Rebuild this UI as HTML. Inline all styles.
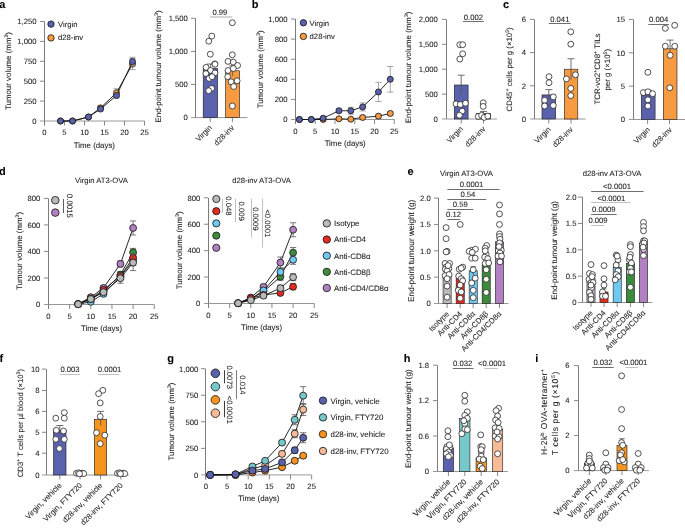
<!DOCTYPE html>
<html><head><meta charset="utf-8"><style>
html,body{margin:0;padding:0;background:#fff;}
body{width:685px;height:528px;overflow:hidden;}
svg{display:block;font-family:"Liberation Sans",sans-serif;font-size:7.7px;fill:#1e1e1e;text-rendering:geometricPrecision;}
text{stroke:#1e1e1e;stroke-width:0.08px;}
</style></head><body>
<svg width="685" height="528" viewBox="0 0 685 528" style="will-change:transform">
<rect width="685" height="528" fill="#fff"/>
<text x="-0.8" y="7.8" font-size="11" font-weight="bold" fill="#000">a</text>
<line x1="44.5" y1="21.4" x2="44.5" y2="125.5" stroke="#7c7c7c" stroke-width="1"/>
<text x="36.6" y="123.8" text-anchor="end">0</text>
<line x1="40" y1="101.1" x2="44" y2="101.1" stroke="#7a7a7a" stroke-width="0.9"/>
<text x="36.6" y="103.9" text-anchor="end">250</text>
<line x1="40" y1="81.2" x2="44" y2="81.2" stroke="#7a7a7a" stroke-width="0.9"/>
<text x="36.6" y="84" text-anchor="end">500</text>
<line x1="40" y1="61.3" x2="44" y2="61.3" stroke="#7a7a7a" stroke-width="0.9"/>
<text x="36.6" y="64.1" text-anchor="end">750</text>
<line x1="40" y1="41.4" x2="44" y2="41.4" stroke="#7a7a7a" stroke-width="0.9"/>
<text x="36.6" y="44.2" text-anchor="end">1,000</text>
<line x1="40" y1="21.5" x2="44" y2="21.5" stroke="#7a7a7a" stroke-width="0.9"/>
<text x="36.6" y="24.3" text-anchor="end">1,250</text>
<line x1="40" y1="121" x2="144.5" y2="121" stroke="#8c8c8c" stroke-width="0.9"/>
<line x1="44.5" y1="121" x2="44.5" y2="125.5" stroke="#7a7a7a" stroke-width="0.9"/>
<text x="44.5" y="135.2" text-anchor="middle">0</text>
<line x1="64.5" y1="121" x2="64.5" y2="125.5" stroke="#7a7a7a" stroke-width="0.9"/>
<text x="64.5" y="135.2" text-anchor="middle">5</text>
<line x1="84.5" y1="121" x2="84.5" y2="125.5" stroke="#7a7a7a" stroke-width="0.9"/>
<text x="84.5" y="135.2" text-anchor="middle">10</text>
<line x1="104.5" y1="121" x2="104.5" y2="125.5" stroke="#7a7a7a" stroke-width="0.9"/>
<text x="104.5" y="135.2" text-anchor="middle">15</text>
<line x1="124.5" y1="121" x2="124.5" y2="125.5" stroke="#7a7a7a" stroke-width="0.9"/>
<text x="124.5" y="135.2" text-anchor="middle">20</text>
<line x1="144.5" y1="121" x2="144.5" y2="125.5" stroke="#7a7a7a" stroke-width="0.9"/>
<text x="144.5" y="135.2" text-anchor="middle">25</text>
<text x="94.4" y="147.6" text-anchor="middle" font-size="7.85">Time (days)</text>
<text x="10.5" y="71" text-anchor="middle" font-size="7.9" transform="rotate(-90 10.5 71)">Tumour volume (mm<tspan baseline-shift="2.9" font-size="5.2">3</tspan>)</text>
<line x1="100.5" y1="105.87" x2="100.5" y2="109.87" stroke="#8f8f8f" stroke-width="0.8"/>
<line x1="97.4" y1="105.87" x2="103.6" y2="105.87" stroke="#8f8f8f" stroke-width="0.8"/>
<line x1="97.4" y1="109.87" x2="103.6" y2="109.87" stroke="#8f8f8f" stroke-width="0.8"/>
<line x1="116.5" y1="88.74" x2="116.5" y2="96.74" stroke="#8f8f8f" stroke-width="0.8"/>
<line x1="113.4" y1="88.74" x2="119.6" y2="88.74" stroke="#8f8f8f" stroke-width="0.8"/>
<line x1="113.4" y1="96.74" x2="119.6" y2="96.74" stroke="#8f8f8f" stroke-width="0.8"/>
<line x1="132.5" y1="58.59" x2="132.5" y2="69.59" stroke="#8f8f8f" stroke-width="0.8"/>
<line x1="129.4" y1="58.59" x2="135.6" y2="58.59" stroke="#8f8f8f" stroke-width="0.8"/>
<line x1="129.4" y1="69.59" x2="135.6" y2="69.59" stroke="#8f8f8f" stroke-width="0.8"/>
<polyline points="60.5,121 72.5,121 88.5,117.02 100.5,107.87 116.5,92.74 132.5,64.09" fill="none" stroke="#111" stroke-width="0.9"/>
<circle cx="60.5" cy="121" r="3" fill="#f79b42" stroke="#1a1a1a" stroke-width="0.85"/>
<circle cx="72.5" cy="121" r="3" fill="#f79b42" stroke="#1a1a1a" stroke-width="0.85"/>
<circle cx="88.5" cy="117.02" r="3" fill="#f79b42" stroke="#1a1a1a" stroke-width="0.85"/>
<circle cx="100.5" cy="107.87" r="3" fill="#f79b42" stroke="#1a1a1a" stroke-width="0.85"/>
<circle cx="116.5" cy="92.74" r="3" fill="#f79b42" stroke="#1a1a1a" stroke-width="0.85"/>
<circle cx="132.5" cy="64.09" r="3" fill="#f79b42" stroke="#1a1a1a" stroke-width="0.85"/>
<line x1="100.5" y1="107.06" x2="100.5" y2="111.06" stroke="#8f8f8f" stroke-width="0.8"/>
<line x1="97.4" y1="107.06" x2="103.6" y2="107.06" stroke="#8f8f8f" stroke-width="0.8"/>
<line x1="97.4" y1="111.06" x2="103.6" y2="111.06" stroke="#8f8f8f" stroke-width="0.8"/>
<line x1="116.5" y1="93.03" x2="116.5" y2="98.03" stroke="#8f8f8f" stroke-width="0.8"/>
<line x1="113.4" y1="93.03" x2="119.6" y2="93.03" stroke="#8f8f8f" stroke-width="0.8"/>
<line x1="113.4" y1="98.03" x2="119.6" y2="98.03" stroke="#8f8f8f" stroke-width="0.8"/>
<line x1="132.5" y1="57.24" x2="132.5" y2="65.84" stroke="#8f8f8f" stroke-width="0.8"/>
<line x1="129.4" y1="57.24" x2="135.6" y2="57.24" stroke="#8f8f8f" stroke-width="0.8"/>
<line x1="129.4" y1="65.84" x2="135.6" y2="65.84" stroke="#8f8f8f" stroke-width="0.8"/>
<polyline points="60.5,121 72.5,121 88.5,116.94 100.5,109.06 116.5,95.53 132.5,61.54" fill="none" stroke="#111" stroke-width="0.9"/>
<circle cx="60.5" cy="121" r="3" fill="#5a62ad" stroke="#1a1a1a" stroke-width="0.85"/>
<circle cx="72.5" cy="121" r="3" fill="#5a62ad" stroke="#1a1a1a" stroke-width="0.85"/>
<circle cx="88.5" cy="116.94" r="3" fill="#5a62ad" stroke="#1a1a1a" stroke-width="0.85"/>
<circle cx="100.5" cy="109.06" r="3" fill="#5a62ad" stroke="#1a1a1a" stroke-width="0.85"/>
<circle cx="116.5" cy="95.53" r="3" fill="#5a62ad" stroke="#1a1a1a" stroke-width="0.85"/>
<circle cx="132.5" cy="61.54" r="3" fill="#5a62ad" stroke="#1a1a1a" stroke-width="0.85"/>
<circle cx="51" cy="24.1" r="3.2" fill="#5a62ad" stroke="#1a1a1a" stroke-width="0.85"/>
<text x="58" y="27">Virgin</text>
<circle cx="51" cy="37.9" r="3.2" fill="#f79b42" stroke="#1a1a1a" stroke-width="0.85"/>
<text x="58" y="40.4">d28-inv</text>
<line x1="195.5" y1="18.2" x2="195.5" y2="117.6" stroke="#7c7c7c" stroke-width="1"/>
<text x="187.9" y="120.4" text-anchor="end">0</text>
<line x1="191" y1="84.5" x2="195" y2="84.5" stroke="#7a7a7a" stroke-width="0.9"/>
<text x="187.9" y="87.3" text-anchor="end">500</text>
<line x1="191" y1="51.4" x2="195" y2="51.4" stroke="#7a7a7a" stroke-width="0.9"/>
<text x="187.9" y="54.2" text-anchor="end">1,000</text>
<line x1="191" y1="18.3" x2="195" y2="18.3" stroke="#7a7a7a" stroke-width="0.9"/>
<text x="187.9" y="21.1" text-anchor="end">1,500</text>
<line x1="191" y1="117.6" x2="247.5" y2="117.6" stroke="#8c8c8c" stroke-width="0.9"/>
<line x1="210.2" y1="117.6" x2="210.2" y2="122.1" stroke="#7a7a7a" stroke-width="0.9"/>
<line x1="232.4" y1="117.6" x2="232.4" y2="122.1" stroke="#7a7a7a" stroke-width="0.9"/>
<rect x="203.2" y="68.5" width="14.4" height="49.1" fill="#5a62ad" stroke="#1a1a1a" stroke-width="0.6"/>
<rect x="225.6" y="70.8" width="14" height="46.8" fill="#f79b42" stroke="#1a1a1a" stroke-width="0.6"/>
<line x1="210.4" y1="64" x2="210.4" y2="73" stroke="#555" stroke-width="0.85"/>
<line x1="206.9" y1="64" x2="213.9" y2="64" stroke="#555" stroke-width="0.85"/>
<line x1="232.6" y1="65.8" x2="232.6" y2="75.8" stroke="#555" stroke-width="0.85"/>
<line x1="229.1" y1="65.8" x2="236.1" y2="65.8" stroke="#555" stroke-width="0.85"/>
<circle cx="211.8" cy="36.1" r="2.95" fill="#ffffff" stroke="#1a1a1a" stroke-width="0.75"/>
<circle cx="208.8" cy="41.2" r="2.95" fill="#ffffff" stroke="#1a1a1a" stroke-width="0.75"/>
<circle cx="210.3" cy="54.2" r="2.95" fill="#ffffff" stroke="#1a1a1a" stroke-width="0.75"/>
<circle cx="214.8" cy="63.9" r="2.95" fill="#ffffff" stroke="#1a1a1a" stroke-width="0.75"/>
<circle cx="206.1" cy="67.4" r="2.95" fill="#ffffff" stroke="#1a1a1a" stroke-width="0.75"/>
<circle cx="215" cy="64.2" r="2.95" fill="#ffffff" stroke="#1a1a1a" stroke-width="0.75"/>
<circle cx="210.6" cy="70.4" r="2.95" fill="#ffffff" stroke="#1a1a1a" stroke-width="0.75"/>
<circle cx="205.9" cy="73.6" r="2.95" fill="#ffffff" stroke="#1a1a1a" stroke-width="0.75"/>
<circle cx="215" cy="72.9" r="2.95" fill="#ffffff" stroke="#1a1a1a" stroke-width="0.75"/>
<circle cx="209.1" cy="78.4" r="2.95" fill="#ffffff" stroke="#1a1a1a" stroke-width="0.75"/>
<circle cx="212.1" cy="76.7" r="2.95" fill="#ffffff" stroke="#1a1a1a" stroke-width="0.75"/>
<circle cx="211.6" cy="88.4" r="2.95" fill="#ffffff" stroke="#1a1a1a" stroke-width="0.75"/>
<circle cx="208.7" cy="90.7" r="2.95" fill="#ffffff" stroke="#1a1a1a" stroke-width="0.75"/>
<circle cx="232.3" cy="22.7" r="2.95" fill="#ffffff" stroke="#1a1a1a" stroke-width="0.75"/>
<circle cx="232.3" cy="54.8" r="2.95" fill="#ffffff" stroke="#1a1a1a" stroke-width="0.75"/>
<circle cx="228" cy="61.4" r="2.95" fill="#ffffff" stroke="#1a1a1a" stroke-width="0.75"/>
<circle cx="233.3" cy="62.1" r="2.95" fill="#ffffff" stroke="#1a1a1a" stroke-width="0.75"/>
<circle cx="237.6" cy="65.5" r="2.95" fill="#ffffff" stroke="#1a1a1a" stroke-width="0.75"/>
<circle cx="228" cy="70.5" r="2.95" fill="#ffffff" stroke="#1a1a1a" stroke-width="0.75"/>
<circle cx="233.3" cy="68.5" r="2.95" fill="#ffffff" stroke="#1a1a1a" stroke-width="0.75"/>
<circle cx="227.7" cy="76.7" r="2.95" fill="#ffffff" stroke="#1a1a1a" stroke-width="0.75"/>
<circle cx="231.1" cy="81.8" r="2.95" fill="#ffffff" stroke="#1a1a1a" stroke-width="0.75"/>
<circle cx="237.1" cy="80.8" r="2.95" fill="#ffffff" stroke="#1a1a1a" stroke-width="0.75"/>
<circle cx="233.7" cy="86.5" r="2.95" fill="#ffffff" stroke="#1a1a1a" stroke-width="0.75"/>
<circle cx="232.4" cy="106" r="2.95" fill="#ffffff" stroke="#1a1a1a" stroke-width="0.75"/>
<line x1="210" y1="17" x2="232.4" y2="17" stroke="#a8a8a8" stroke-width="0.95"/>
<text x="219.9" y="14.9" text-anchor="middle">0.99</text>
<text x="160.7" y="66.4" text-anchor="middle" font-size="7.95" transform="rotate(-90 160.7 66.4)">End-point tumour volume (mm<tspan baseline-shift="2.9" font-size="5.2">3</tspan>)</text>
<text x="212.6" y="128.3" text-anchor="end" transform="rotate(-45 212.6 128.3)">Virgin</text>
<text x="234.8" y="128.3" text-anchor="end" transform="rotate(-45 234.8 128.3)">d28-inv</text>
<text x="251.7" y="7.8" font-size="11" font-weight="bold" fill="#000">b</text>
<line x1="295.5" y1="18.9" x2="295.5" y2="124" stroke="#7c7c7c" stroke-width="1"/>
<text x="287.6" y="122.3" text-anchor="end">0</text>
<line x1="291" y1="99.4" x2="295" y2="99.4" stroke="#7a7a7a" stroke-width="0.9"/>
<text x="287.6" y="102.2" text-anchor="end">200</text>
<line x1="291" y1="79.3" x2="295" y2="79.3" stroke="#7a7a7a" stroke-width="0.9"/>
<text x="287.6" y="82.1" text-anchor="end">400</text>
<line x1="291" y1="59.2" x2="295" y2="59.2" stroke="#7a7a7a" stroke-width="0.9"/>
<text x="287.6" y="62" text-anchor="end">600</text>
<line x1="291" y1="39.1" x2="295" y2="39.1" stroke="#7a7a7a" stroke-width="0.9"/>
<text x="287.6" y="41.9" text-anchor="end">800</text>
<line x1="291" y1="19" x2="295" y2="19" stroke="#7a7a7a" stroke-width="0.9"/>
<text x="287.6" y="21.8" text-anchor="end">1,000</text>
<line x1="291" y1="119.5" x2="394.2" y2="119.5" stroke="#8c8c8c" stroke-width="0.9"/>
<line x1="295.5" y1="119.5" x2="295.5" y2="124" stroke="#7a7a7a" stroke-width="0.9"/>
<text x="295.5" y="133.6" text-anchor="middle">0</text>
<line x1="315.25" y1="119.5" x2="315.25" y2="124" stroke="#7a7a7a" stroke-width="0.9"/>
<text x="315.25" y="133.6" text-anchor="middle">5</text>
<line x1="335" y1="119.5" x2="335" y2="124" stroke="#7a7a7a" stroke-width="0.9"/>
<text x="335" y="133.6" text-anchor="middle">10</text>
<line x1="354.75" y1="119.5" x2="354.75" y2="124" stroke="#7a7a7a" stroke-width="0.9"/>
<text x="354.75" y="133.6" text-anchor="middle">15</text>
<line x1="374.5" y1="119.5" x2="374.5" y2="124" stroke="#7a7a7a" stroke-width="0.9"/>
<text x="374.5" y="133.6" text-anchor="middle">20</text>
<line x1="394.25" y1="119.5" x2="394.25" y2="124" stroke="#7a7a7a" stroke-width="0.9"/>
<text x="394.25" y="133.6" text-anchor="middle">25</text>
<text x="345.2" y="146.2" text-anchor="middle" font-size="7.85">Time (days)</text>
<text x="263" y="69.35" text-anchor="middle" font-size="7.9" transform="rotate(-90 263 69.35)">Tumour volume (mm<tspan baseline-shift="2.9" font-size="5.2">3</tspan>)</text>
<line x1="338.95" y1="117.8" x2="338.95" y2="119.8" stroke="#8f8f8f" stroke-width="0.8"/>
<line x1="335.85" y1="117.8" x2="342.05" y2="117.8" stroke="#8f8f8f" stroke-width="0.8"/>
<line x1="335.85" y1="119.8" x2="342.05" y2="119.8" stroke="#8f8f8f" stroke-width="0.8"/>
<line x1="350.8" y1="118.2" x2="350.8" y2="120.2" stroke="#8f8f8f" stroke-width="0.8"/>
<line x1="347.7" y1="118.2" x2="353.9" y2="118.2" stroke="#8f8f8f" stroke-width="0.8"/>
<line x1="347.7" y1="120.2" x2="353.9" y2="120.2" stroke="#8f8f8f" stroke-width="0.8"/>
<line x1="362.65" y1="115.49" x2="362.65" y2="119.49" stroke="#8f8f8f" stroke-width="0.8"/>
<line x1="359.55" y1="115.49" x2="365.75" y2="115.49" stroke="#8f8f8f" stroke-width="0.8"/>
<line x1="359.55" y1="119.49" x2="365.75" y2="119.49" stroke="#8f8f8f" stroke-width="0.8"/>
<line x1="378.45" y1="114.18" x2="378.45" y2="118.18" stroke="#8f8f8f" stroke-width="0.8"/>
<line x1="375.35" y1="114.18" x2="381.55" y2="114.18" stroke="#8f8f8f" stroke-width="0.8"/>
<line x1="375.35" y1="118.18" x2="381.55" y2="118.18" stroke="#8f8f8f" stroke-width="0.8"/>
<line x1="390.3" y1="111.47" x2="390.3" y2="115.47" stroke="#8f8f8f" stroke-width="0.8"/>
<line x1="387.2" y1="111.47" x2="393.4" y2="111.47" stroke="#8f8f8f" stroke-width="0.8"/>
<line x1="387.2" y1="115.47" x2="393.4" y2="115.47" stroke="#8f8f8f" stroke-width="0.8"/>
<polyline points="299.45,119.5 311.3,119.5 323.15,119.5 338.95,118.8 350.8,119.2 362.65,117.49 378.45,116.18 390.3,113.47" fill="none" stroke="#111" stroke-width="0.9"/>
<circle cx="299.45" cy="119.5" r="3" fill="#f79b42" stroke="#1a1a1a" stroke-width="0.85"/>
<circle cx="311.3" cy="119.5" r="3" fill="#f79b42" stroke="#1a1a1a" stroke-width="0.85"/>
<circle cx="323.15" cy="119.5" r="3" fill="#f79b42" stroke="#1a1a1a" stroke-width="0.85"/>
<circle cx="338.95" cy="118.8" r="3" fill="#f79b42" stroke="#1a1a1a" stroke-width="0.85"/>
<circle cx="350.8" cy="119.2" r="3" fill="#f79b42" stroke="#1a1a1a" stroke-width="0.85"/>
<circle cx="362.65" cy="117.49" r="3" fill="#f79b42" stroke="#1a1a1a" stroke-width="0.85"/>
<circle cx="378.45" cy="116.18" r="3" fill="#f79b42" stroke="#1a1a1a" stroke-width="0.85"/>
<circle cx="390.3" cy="113.47" r="3" fill="#f79b42" stroke="#1a1a1a" stroke-width="0.85"/>
<line x1="323.15" y1="117.19" x2="323.15" y2="119.19" stroke="#8f8f8f" stroke-width="0.8"/>
<line x1="320.05" y1="117.19" x2="326.25" y2="117.19" stroke="#8f8f8f" stroke-width="0.8"/>
<line x1="320.05" y1="119.19" x2="326.25" y2="119.19" stroke="#8f8f8f" stroke-width="0.8"/>
<line x1="338.95" y1="108.76" x2="338.95" y2="112.76" stroke="#8f8f8f" stroke-width="0.8"/>
<line x1="335.85" y1="108.76" x2="342.05" y2="108.76" stroke="#8f8f8f" stroke-width="0.8"/>
<line x1="335.85" y1="112.76" x2="342.05" y2="112.76" stroke="#8f8f8f" stroke-width="0.8"/>
<line x1="350.8" y1="107.26" x2="350.8" y2="114.26" stroke="#8f8f8f" stroke-width="0.8"/>
<line x1="347.7" y1="107.26" x2="353.9" y2="107.26" stroke="#8f8f8f" stroke-width="0.8"/>
<line x1="347.7" y1="114.26" x2="353.9" y2="114.26" stroke="#8f8f8f" stroke-width="0.8"/>
<line x1="362.65" y1="102.94" x2="362.65" y2="110.94" stroke="#8f8f8f" stroke-width="0.8"/>
<line x1="359.55" y1="102.94" x2="365.75" y2="102.94" stroke="#8f8f8f" stroke-width="0.8"/>
<line x1="359.55" y1="110.94" x2="365.75" y2="110.94" stroke="#8f8f8f" stroke-width="0.8"/>
<line x1="378.45" y1="82.36" x2="378.45" y2="101.56" stroke="#8f8f8f" stroke-width="0.8"/>
<line x1="375.35" y1="82.36" x2="381.55" y2="82.36" stroke="#8f8f8f" stroke-width="0.8"/>
<line x1="375.35" y1="101.56" x2="381.55" y2="101.56" stroke="#8f8f8f" stroke-width="0.8"/>
<line x1="390.3" y1="66.5" x2="390.3" y2="92.1" stroke="#8f8f8f" stroke-width="0.8"/>
<line x1="387.2" y1="66.5" x2="393.4" y2="66.5" stroke="#8f8f8f" stroke-width="0.8"/>
<line x1="387.2" y1="92.1" x2="393.4" y2="92.1" stroke="#8f8f8f" stroke-width="0.8"/>
<polyline points="299.45,119.5 311.3,119.5 323.15,118.19 338.95,110.76 350.8,110.76 362.65,106.94 378.45,91.96 390.3,79.3" fill="none" stroke="#111" stroke-width="0.9"/>
<circle cx="299.45" cy="119.5" r="3" fill="#5a62ad" stroke="#1a1a1a" stroke-width="0.85"/>
<circle cx="311.3" cy="119.5" r="3" fill="#5a62ad" stroke="#1a1a1a" stroke-width="0.85"/>
<circle cx="323.15" cy="118.19" r="3" fill="#5a62ad" stroke="#1a1a1a" stroke-width="0.85"/>
<circle cx="338.95" cy="110.76" r="3" fill="#5a62ad" stroke="#1a1a1a" stroke-width="0.85"/>
<circle cx="350.8" cy="110.76" r="3" fill="#5a62ad" stroke="#1a1a1a" stroke-width="0.85"/>
<circle cx="362.65" cy="106.94" r="3" fill="#5a62ad" stroke="#1a1a1a" stroke-width="0.85"/>
<circle cx="378.45" cy="91.96" r="3" fill="#5a62ad" stroke="#1a1a1a" stroke-width="0.85"/>
<circle cx="390.3" cy="79.3" r="3" fill="#5a62ad" stroke="#1a1a1a" stroke-width="0.85"/>
<circle cx="303.4" cy="22.8" r="3.2" fill="#5a62ad" stroke="#1a1a1a" stroke-width="0.85"/>
<text x="309.6" y="25.7">Virgin</text>
<circle cx="303.4" cy="36.4" r="3.2" fill="#f79b42" stroke="#1a1a1a" stroke-width="0.85"/>
<text x="309.6" y="39.3">d28-inv</text>
<line x1="446.5" y1="19.4" x2="446.5" y2="119" stroke="#7c7c7c" stroke-width="1"/>
<text x="437.9" y="121.8" text-anchor="end">0</text>
<line x1="442" y1="94.1" x2="446" y2="94.1" stroke="#7a7a7a" stroke-width="0.9"/>
<text x="437.9" y="96.9" text-anchor="end">500</text>
<line x1="442" y1="69.2" x2="446" y2="69.2" stroke="#7a7a7a" stroke-width="0.9"/>
<text x="437.9" y="72" text-anchor="end">1,000</text>
<line x1="442" y1="44.3" x2="446" y2="44.3" stroke="#7a7a7a" stroke-width="0.9"/>
<text x="437.9" y="47.1" text-anchor="end">1,500</text>
<line x1="442" y1="19.4" x2="446" y2="19.4" stroke="#7a7a7a" stroke-width="0.9"/>
<text x="437.9" y="22.2" text-anchor="end">2,000</text>
<line x1="442" y1="119" x2="497" y2="119" stroke="#8c8c8c" stroke-width="0.9"/>
<line x1="461.2" y1="119" x2="461.2" y2="123.5" stroke="#7a7a7a" stroke-width="0.9"/>
<line x1="483.5" y1="119" x2="483.5" y2="123.5" stroke="#7a7a7a" stroke-width="0.9"/>
<rect x="454.3" y="85" width="13.8" height="34" fill="#5a62ad" stroke="#1a1a1a" stroke-width="0.6"/>
<rect x="476.6" y="113.5" width="13.8" height="5.5" fill="#f79b42" stroke="#1a1a1a" stroke-width="0.6"/>
<line x1="461.2" y1="75.2" x2="461.2" y2="94.1" stroke="#555" stroke-width="0.85"/>
<line x1="457.7" y1="75.2" x2="464.7" y2="75.2" stroke="#555" stroke-width="0.85"/>
<line x1="483.5" y1="111.4" x2="483.5" y2="116" stroke="#555" stroke-width="0.85"/>
<line x1="480" y1="111.4" x2="487" y2="111.4" stroke="#555" stroke-width="0.85"/>
<circle cx="459.8" cy="44.7" r="2.95" fill="#ffffff" stroke="#1a1a1a" stroke-width="0.75"/>
<circle cx="462.7" cy="44.7" r="2.95" fill="#ffffff" stroke="#1a1a1a" stroke-width="0.75"/>
<circle cx="462.7" cy="53.8" r="2.95" fill="#ffffff" stroke="#1a1a1a" stroke-width="0.75"/>
<circle cx="459.8" cy="59.1" r="2.95" fill="#ffffff" stroke="#1a1a1a" stroke-width="0.75"/>
<circle cx="456" cy="103.9" r="2.95" fill="#ffffff" stroke="#1a1a1a" stroke-width="0.75"/>
<circle cx="460.3" cy="104.5" r="2.95" fill="#ffffff" stroke="#1a1a1a" stroke-width="0.75"/>
<circle cx="465.5" cy="103.2" r="2.95" fill="#ffffff" stroke="#1a1a1a" stroke-width="0.75"/>
<circle cx="462.2" cy="111.1" r="2.95" fill="#ffffff" stroke="#1a1a1a" stroke-width="0.75"/>
<circle cx="459.4" cy="115.3" r="2.95" fill="#ffffff" stroke="#1a1a1a" stroke-width="0.75"/>
<circle cx="483.2" cy="102.8" r="2.95" fill="#ffffff" stroke="#1a1a1a" stroke-width="0.75"/>
<circle cx="483.2" cy="106.4" r="2.95" fill="#ffffff" stroke="#1a1a1a" stroke-width="0.75"/>
<circle cx="478.3" cy="116.4" r="2.95" fill="#ffffff" stroke="#1a1a1a" stroke-width="0.75"/>
<circle cx="481.6" cy="115.4" r="2.95" fill="#ffffff" stroke="#1a1a1a" stroke-width="0.75"/>
<circle cx="484.2" cy="117.4" r="2.95" fill="#ffffff" stroke="#1a1a1a" stroke-width="0.75"/>
<circle cx="487.8" cy="116.1" r="2.95" fill="#ffffff" stroke="#1a1a1a" stroke-width="0.75"/>
<line x1="463" y1="21.5" x2="483.8" y2="21.5" stroke="#666666" stroke-width="0.95"/>
<text x="473.4" y="19.7" text-anchor="middle">0.002</text>
<text x="411" y="67.35" text-anchor="middle" font-size="7.9" transform="rotate(-90 411 67.35)">End-point tumour volume (mm<tspan baseline-shift="2.9" font-size="5.2">3</tspan>)</text>
<text x="463.6" y="129.6" text-anchor="end" transform="rotate(-45 463.6 129.6)">Virgin</text>
<text x="485.9" y="129.6" text-anchor="end" transform="rotate(-45 485.9 129.6)">d28-inv</text>
<text x="502.9" y="7.8" font-size="11" font-weight="bold" fill="#000">c</text>
<line x1="534.5" y1="19.4" x2="534.5" y2="119" stroke="#7c7c7c" stroke-width="1"/>
<text x="526" y="121.8" text-anchor="end">0</text>
<line x1="530" y1="85.8" x2="534" y2="85.8" stroke="#7a7a7a" stroke-width="0.9"/>
<text x="526" y="88.6" text-anchor="end">2</text>
<line x1="530" y1="52.6" x2="534" y2="52.6" stroke="#7a7a7a" stroke-width="0.9"/>
<text x="526" y="55.4" text-anchor="end">4</text>
<line x1="530" y1="19.4" x2="534" y2="19.4" stroke="#7a7a7a" stroke-width="0.9"/>
<text x="526" y="22.2" text-anchor="end">6</text>
<line x1="530.2" y1="119" x2="585.5" y2="119" stroke="#8c8c8c" stroke-width="0.9"/>
<line x1="548.8" y1="119" x2="548.8" y2="123.5" stroke="#7a7a7a" stroke-width="0.9"/>
<line x1="571" y1="119" x2="571" y2="123.5" stroke="#7a7a7a" stroke-width="0.9"/>
<rect x="542" y="94.93" width="13.6" height="24.07" fill="#5a62ad" stroke="#1a1a1a" stroke-width="0.6"/>
<rect x="564.3" y="69.2" width="13.5" height="49.8" fill="#f79b42" stroke="#1a1a1a" stroke-width="0.6"/>
<line x1="548.8" y1="89.62" x2="548.8" y2="100.24" stroke="#555" stroke-width="0.85"/>
<line x1="545.3" y1="89.62" x2="552.3" y2="89.62" stroke="#555" stroke-width="0.85"/>
<line x1="571" y1="58.74" x2="571" y2="79.66" stroke="#555" stroke-width="0.85"/>
<line x1="567.5" y1="58.74" x2="574.5" y2="58.74" stroke="#555" stroke-width="0.85"/>
<circle cx="549" cy="76.7" r="2.95" fill="#ffffff" stroke="#1a1a1a" stroke-width="0.75"/>
<circle cx="549" cy="82.7" r="2.95" fill="#ffffff" stroke="#1a1a1a" stroke-width="0.75"/>
<circle cx="553.3" cy="96.9" r="2.95" fill="#ffffff" stroke="#1a1a1a" stroke-width="0.75"/>
<circle cx="544.6" cy="100.3" r="2.95" fill="#ffffff" stroke="#1a1a1a" stroke-width="0.75"/>
<circle cx="544.6" cy="106" r="2.95" fill="#ffffff" stroke="#1a1a1a" stroke-width="0.75"/>
<circle cx="553.3" cy="105.5" r="2.95" fill="#ffffff" stroke="#1a1a1a" stroke-width="0.75"/>
<circle cx="570.8" cy="31.8" r="2.95" fill="#ffffff" stroke="#1a1a1a" stroke-width="0.75"/>
<circle cx="570.8" cy="44.2" r="2.95" fill="#ffffff" stroke="#1a1a1a" stroke-width="0.75"/>
<circle cx="566.4" cy="78.9" r="2.95" fill="#ffffff" stroke="#1a1a1a" stroke-width="0.75"/>
<circle cx="575.5" cy="74.8" r="2.95" fill="#ffffff" stroke="#1a1a1a" stroke-width="0.75"/>
<circle cx="570.8" cy="88.4" r="2.95" fill="#ffffff" stroke="#1a1a1a" stroke-width="0.75"/>
<circle cx="570.8" cy="95.6" r="2.95" fill="#ffffff" stroke="#1a1a1a" stroke-width="0.75"/>
<line x1="548.8" y1="23.5" x2="570.8" y2="23.5" stroke="#666666" stroke-width="0.95"/>
<text x="559.8" y="21.7" text-anchor="middle">0.041</text>
<text x="512.5" y="69.4" text-anchor="middle" font-size="7.8" transform="rotate(-90 512.5 69.4)">CD45<tspan baseline-shift="2.9" font-size="5.2">+</tspan> cells per g (×10<tspan baseline-shift="2.9" font-size="5.2">5</tspan>)</text>
<text x="551.2" y="130" text-anchor="end" transform="rotate(-45 551.2 130)">Virgin</text>
<text x="573.4" y="130" text-anchor="end" transform="rotate(-45 573.4 130)">d28-inv</text>
<line x1="633.5" y1="19.4" x2="633.5" y2="119.5" stroke="#7c7c7c" stroke-width="1"/>
<text x="625" y="122.3" text-anchor="end">0</text>
<line x1="629" y1="86.13" x2="633" y2="86.13" stroke="#7a7a7a" stroke-width="0.9"/>
<text x="625" y="88.93" text-anchor="end">5</text>
<line x1="629" y1="52.77" x2="633" y2="52.77" stroke="#7a7a7a" stroke-width="0.9"/>
<text x="625" y="55.57" text-anchor="end">10</text>
<line x1="629" y1="19.41" x2="633" y2="19.41" stroke="#7a7a7a" stroke-width="0.9"/>
<text x="625" y="22.21" text-anchor="end">15</text>
<line x1="629" y1="119.5" x2="686" y2="119.5" stroke="#8c8c8c" stroke-width="0.9"/>
<line x1="647.6" y1="119.5" x2="647.6" y2="124" stroke="#7a7a7a" stroke-width="0.9"/>
<line x1="669.5" y1="119.5" x2="669.5" y2="124" stroke="#7a7a7a" stroke-width="0.9"/>
<rect x="641.3" y="94.81" width="13.8" height="24.69" fill="#5a62ad" stroke="#1a1a1a" stroke-width="0.6"/>
<rect x="663.3" y="48.77" width="13.7" height="70.73" fill="#f79b42" stroke="#1a1a1a" stroke-width="0.6"/>
<line x1="648.2" y1="90.14" x2="648.2" y2="99.48" stroke="#555" stroke-width="0.85"/>
<line x1="644.7" y1="90.14" x2="651.7" y2="90.14" stroke="#555" stroke-width="0.85"/>
<line x1="670.1" y1="40.09" x2="670.1" y2="57.44" stroke="#555" stroke-width="0.85"/>
<line x1="666.6" y1="40.09" x2="673.6" y2="40.09" stroke="#555" stroke-width="0.85"/>
<circle cx="647.9" cy="72.3" r="2.95" fill="#ffffff" stroke="#1a1a1a" stroke-width="0.75"/>
<circle cx="643.3" cy="92.6" r="2.95" fill="#ffffff" stroke="#1a1a1a" stroke-width="0.75"/>
<circle cx="647.9" cy="91.8" r="2.95" fill="#ffffff" stroke="#1a1a1a" stroke-width="0.75"/>
<circle cx="652.6" cy="93.7" r="2.95" fill="#ffffff" stroke="#1a1a1a" stroke-width="0.75"/>
<circle cx="647.9" cy="99.8" r="2.95" fill="#ffffff" stroke="#1a1a1a" stroke-width="0.75"/>
<circle cx="647.9" cy="106" r="2.95" fill="#ffffff" stroke="#1a1a1a" stroke-width="0.75"/>
<circle cx="665.3" cy="28.3" r="2.95" fill="#ffffff" stroke="#1a1a1a" stroke-width="0.75"/>
<circle cx="674.7" cy="25.3" r="2.95" fill="#ffffff" stroke="#1a1a1a" stroke-width="0.75"/>
<circle cx="665.3" cy="46.2" r="2.95" fill="#ffffff" stroke="#1a1a1a" stroke-width="0.75"/>
<circle cx="674.7" cy="46.2" r="2.95" fill="#ffffff" stroke="#1a1a1a" stroke-width="0.75"/>
<circle cx="670.2" cy="55.3" r="2.95" fill="#ffffff" stroke="#1a1a1a" stroke-width="0.75"/>
<circle cx="669.8" cy="87.8" r="2.95" fill="#ffffff" stroke="#1a1a1a" stroke-width="0.75"/>
<line x1="648.3" y1="24.5" x2="669.1" y2="24.5" stroke="#666666" stroke-width="0.95"/>
<text x="658.7" y="22" text-anchor="middle">0.004</text>
<text x="600.3" y="69" text-anchor="middle" font-size="7.9" transform="rotate(-90 600.3 69)">TCR-vα2<tspan baseline-shift="2.9" font-size="5.2">+</tspan>CD8<tspan baseline-shift="2.9" font-size="5.2">+</tspan> TILs</text>
<text x="609.6" y="69.7" text-anchor="middle" font-size="7.9" transform="rotate(-90 609.6 69.7)">per g (×10<tspan baseline-shift="2.9" font-size="5.2">5</tspan>)</text>
<text x="650.6" y="130.3" text-anchor="end" transform="rotate(-45 650.6 130.3)">Virgin</text>
<text x="672.5" y="130.3" text-anchor="end" transform="rotate(-45 672.5 130.3)">d28-inv</text>
<text x="-1" y="174.8" font-size="11" font-weight="bold" fill="#000">d</text>
<text x="101.5" y="183.3" text-anchor="middle">Virgin AT3-OVA</text>
<line x1="48.5" y1="198.4" x2="48.5" y2="309" stroke="#7c7c7c" stroke-width="1"/>
<text x="40.3" y="307.3" text-anchor="end">0</text>
<line x1="44" y1="277.98" x2="48" y2="277.98" stroke="#7a7a7a" stroke-width="0.9"/>
<text x="40.3" y="280.78" text-anchor="end">200</text>
<line x1="44" y1="251.45" x2="48" y2="251.45" stroke="#7a7a7a" stroke-width="0.9"/>
<text x="40.3" y="254.25" text-anchor="end">400</text>
<line x1="44" y1="224.93" x2="48" y2="224.93" stroke="#7a7a7a" stroke-width="0.9"/>
<text x="40.3" y="227.73" text-anchor="end">600</text>
<line x1="44" y1="198.4" x2="48" y2="198.4" stroke="#7a7a7a" stroke-width="0.9"/>
<text x="40.3" y="201.2" text-anchor="end">800</text>
<line x1="44" y1="304.5" x2="154.3" y2="304.5" stroke="#8c8c8c" stroke-width="0.9"/>
<line x1="48.5" y1="304.5" x2="48.5" y2="309" stroke="#7a7a7a" stroke-width="0.9"/>
<text x="48.5" y="318.6" text-anchor="middle">0</text>
<line x1="69.65" y1="304.5" x2="69.65" y2="309" stroke="#7a7a7a" stroke-width="0.9"/>
<text x="69.65" y="318.6" text-anchor="middle">5</text>
<line x1="90.8" y1="304.5" x2="90.8" y2="309" stroke="#7a7a7a" stroke-width="0.9"/>
<text x="90.8" y="318.6" text-anchor="middle">10</text>
<line x1="111.95" y1="304.5" x2="111.95" y2="309" stroke="#7a7a7a" stroke-width="0.9"/>
<text x="111.95" y="318.6" text-anchor="middle">15</text>
<line x1="133.1" y1="304.5" x2="133.1" y2="309" stroke="#7a7a7a" stroke-width="0.9"/>
<text x="133.1" y="318.6" text-anchor="middle">20</text>
<line x1="154.25" y1="304.5" x2="154.25" y2="309" stroke="#7a7a7a" stroke-width="0.9"/>
<text x="154.25" y="318.6" text-anchor="middle">25</text>
<text x="101.5" y="331" text-anchor="middle" font-size="7.85">Time (days)</text>
<text x="21.7" y="250.9" text-anchor="middle" font-size="7.9" transform="rotate(-90 21.7 250.9)">Tumour volume (mm<tspan baseline-shift="2.9" font-size="5.2">3</tspan>)</text>
<line x1="90.8" y1="296.21" x2="90.8" y2="298.21" stroke="#555555" stroke-width="0.8"/>
<line x1="87.7" y1="296.21" x2="93.9" y2="296.21" stroke="#555555" stroke-width="0.8"/>
<line x1="87.7" y1="298.21" x2="93.9" y2="298.21" stroke="#555555" stroke-width="0.8"/>
<line x1="103.49" y1="285.92" x2="103.49" y2="289.92" stroke="#555555" stroke-width="0.8"/>
<line x1="100.39" y1="285.92" x2="106.59" y2="285.92" stroke="#555555" stroke-width="0.8"/>
<line x1="100.39" y1="289.92" x2="106.59" y2="289.92" stroke="#555555" stroke-width="0.8"/>
<line x1="120.41" y1="260.92" x2="120.41" y2="266.92" stroke="#555555" stroke-width="0.8"/>
<line x1="117.31" y1="260.92" x2="123.51" y2="260.92" stroke="#555555" stroke-width="0.8"/>
<line x1="117.31" y1="266.92" x2="123.51" y2="266.92" stroke="#555555" stroke-width="0.8"/>
<line x1="133.1" y1="220.98" x2="133.1" y2="234.98" stroke="#555555" stroke-width="0.8"/>
<line x1="130" y1="220.98" x2="136.2" y2="220.98" stroke="#555555" stroke-width="0.8"/>
<line x1="130" y1="234.98" x2="136.2" y2="234.98" stroke="#555555" stroke-width="0.8"/>
<polyline points="78.11,304.1 90.8,297.21 103.49,287.92 120.41,263.92 133.1,227.98" fill="none" stroke="#111" stroke-width="0.9"/>
<circle cx="78.11" cy="304.1" r="3.45" fill="#b181c1" stroke="#1a1a1a" stroke-width="0.85"/>
<circle cx="90.8" cy="297.21" r="3.45" fill="#b181c1" stroke="#1a1a1a" stroke-width="0.85"/>
<circle cx="103.49" cy="287.92" r="3.45" fill="#b181c1" stroke="#1a1a1a" stroke-width="0.85"/>
<circle cx="120.41" cy="263.92" r="3.45" fill="#b181c1" stroke="#1a1a1a" stroke-width="0.85"/>
<circle cx="133.1" cy="227.98" r="3.45" fill="#b181c1" stroke="#1a1a1a" stroke-width="0.85"/>
<line x1="90.8" y1="300.85" x2="90.8" y2="302.85" stroke="#555555" stroke-width="0.8"/>
<line x1="87.7" y1="300.85" x2="93.9" y2="300.85" stroke="#555555" stroke-width="0.8"/>
<line x1="87.7" y1="302.85" x2="93.9" y2="302.85" stroke="#555555" stroke-width="0.8"/>
<line x1="103.49" y1="291.89" x2="103.49" y2="295.89" stroke="#555555" stroke-width="0.8"/>
<line x1="100.39" y1="291.89" x2="106.59" y2="291.89" stroke="#555555" stroke-width="0.8"/>
<line x1="100.39" y1="295.89" x2="106.59" y2="295.89" stroke="#555555" stroke-width="0.8"/>
<line x1="120.41" y1="273.65" x2="120.41" y2="279.65" stroke="#555555" stroke-width="0.8"/>
<line x1="117.31" y1="273.65" x2="123.51" y2="273.65" stroke="#555555" stroke-width="0.8"/>
<line x1="117.31" y1="279.65" x2="123.51" y2="279.65" stroke="#555555" stroke-width="0.8"/>
<line x1="133.1" y1="255.73" x2="133.1" y2="265.73" stroke="#555555" stroke-width="0.8"/>
<line x1="130" y1="255.73" x2="136.2" y2="255.73" stroke="#555555" stroke-width="0.8"/>
<line x1="130" y1="265.73" x2="136.2" y2="265.73" stroke="#555555" stroke-width="0.8"/>
<polyline points="78.11,304.23 90.8,301.85 103.49,293.89 120.41,276.65 133.1,260.73" fill="none" stroke="#111" stroke-width="0.9"/>
<circle cx="78.11" cy="304.23" r="3.45" fill="#6fcaf1" stroke="#1a1a1a" stroke-width="0.85"/>
<circle cx="90.8" cy="301.85" r="3.45" fill="#6fcaf1" stroke="#1a1a1a" stroke-width="0.85"/>
<circle cx="103.49" cy="293.89" r="3.45" fill="#6fcaf1" stroke="#1a1a1a" stroke-width="0.85"/>
<circle cx="120.41" cy="276.65" r="3.45" fill="#6fcaf1" stroke="#1a1a1a" stroke-width="0.85"/>
<circle cx="133.1" cy="260.73" r="3.45" fill="#6fcaf1" stroke="#1a1a1a" stroke-width="0.85"/>
<line x1="90.8" y1="298.19" x2="90.8" y2="300.19" stroke="#555555" stroke-width="0.8"/>
<line x1="87.7" y1="298.19" x2="93.9" y2="298.19" stroke="#555555" stroke-width="0.8"/>
<line x1="87.7" y1="300.19" x2="93.9" y2="300.19" stroke="#555555" stroke-width="0.8"/>
<line x1="103.49" y1="289.24" x2="103.49" y2="293.24" stroke="#555555" stroke-width="0.8"/>
<line x1="100.39" y1="289.24" x2="106.59" y2="289.24" stroke="#555555" stroke-width="0.8"/>
<line x1="100.39" y1="293.24" x2="106.59" y2="293.24" stroke="#555555" stroke-width="0.8"/>
<line x1="120.41" y1="271.66" x2="120.41" y2="277.66" stroke="#555555" stroke-width="0.8"/>
<line x1="117.31" y1="271.66" x2="123.51" y2="271.66" stroke="#555555" stroke-width="0.8"/>
<line x1="117.31" y1="277.66" x2="123.51" y2="277.66" stroke="#555555" stroke-width="0.8"/>
<line x1="133.1" y1="248.38" x2="133.1" y2="256.38" stroke="#555555" stroke-width="0.8"/>
<line x1="130" y1="248.38" x2="136.2" y2="248.38" stroke="#555555" stroke-width="0.8"/>
<line x1="130" y1="256.38" x2="136.2" y2="256.38" stroke="#555555" stroke-width="0.8"/>
<polyline points="78.11,304.1 90.8,299.19 103.49,291.24 120.41,274.66 133.1,252.38" fill="none" stroke="#111" stroke-width="0.9"/>
<circle cx="78.11" cy="304.1" r="3.45" fill="#3c8a3c" stroke="#1a1a1a" stroke-width="0.85"/>
<circle cx="90.8" cy="299.19" r="3.45" fill="#3c8a3c" stroke="#1a1a1a" stroke-width="0.85"/>
<circle cx="103.49" cy="291.24" r="3.45" fill="#3c8a3c" stroke="#1a1a1a" stroke-width="0.85"/>
<circle cx="120.41" cy="274.66" r="3.45" fill="#3c8a3c" stroke="#1a1a1a" stroke-width="0.85"/>
<circle cx="133.1" cy="252.38" r="3.45" fill="#3c8a3c" stroke="#1a1a1a" stroke-width="0.85"/>
<line x1="90.8" y1="297.53" x2="90.8" y2="299.53" stroke="#555555" stroke-width="0.8"/>
<line x1="87.7" y1="297.53" x2="93.9" y2="297.53" stroke="#555555" stroke-width="0.8"/>
<line x1="87.7" y1="299.53" x2="93.9" y2="299.53" stroke="#555555" stroke-width="0.8"/>
<line x1="103.49" y1="287.91" x2="103.49" y2="291.91" stroke="#555555" stroke-width="0.8"/>
<line x1="100.39" y1="287.91" x2="106.59" y2="287.91" stroke="#555555" stroke-width="0.8"/>
<line x1="100.39" y1="291.91" x2="106.59" y2="291.91" stroke="#555555" stroke-width="0.8"/>
<line x1="120.41" y1="272.99" x2="120.41" y2="278.99" stroke="#555555" stroke-width="0.8"/>
<line x1="117.31" y1="272.99" x2="123.51" y2="272.99" stroke="#555555" stroke-width="0.8"/>
<line x1="117.31" y1="278.99" x2="123.51" y2="278.99" stroke="#555555" stroke-width="0.8"/>
<line x1="133.1" y1="253.82" x2="133.1" y2="261.82" stroke="#555555" stroke-width="0.8"/>
<line x1="130" y1="253.82" x2="136.2" y2="253.82" stroke="#555555" stroke-width="0.8"/>
<line x1="130" y1="261.82" x2="136.2" y2="261.82" stroke="#555555" stroke-width="0.8"/>
<polyline points="78.11,304.1 90.8,298.53 103.49,289.91 120.41,275.99 133.1,257.82" fill="none" stroke="#111" stroke-width="0.9"/>
<circle cx="78.11" cy="304.1" r="3.45" fill="#e8291f" stroke="#1a1a1a" stroke-width="0.85"/>
<circle cx="90.8" cy="298.53" r="3.45" fill="#e8291f" stroke="#1a1a1a" stroke-width="0.85"/>
<circle cx="103.49" cy="289.91" r="3.45" fill="#e8291f" stroke="#1a1a1a" stroke-width="0.85"/>
<circle cx="120.41" cy="275.99" r="3.45" fill="#e8291f" stroke="#1a1a1a" stroke-width="0.85"/>
<circle cx="133.1" cy="257.82" r="3.45" fill="#e8291f" stroke="#1a1a1a" stroke-width="0.85"/>
<line x1="90.8" y1="298.06" x2="90.8" y2="300.06" stroke="#555555" stroke-width="0.8"/>
<line x1="87.7" y1="298.06" x2="93.9" y2="298.06" stroke="#555555" stroke-width="0.8"/>
<line x1="87.7" y1="300.06" x2="93.9" y2="300.06" stroke="#555555" stroke-width="0.8"/>
<line x1="103.49" y1="290.17" x2="103.49" y2="294.17" stroke="#555555" stroke-width="0.8"/>
<line x1="100.39" y1="290.17" x2="106.59" y2="290.17" stroke="#555555" stroke-width="0.8"/>
<line x1="100.39" y1="294.17" x2="106.59" y2="294.17" stroke="#555555" stroke-width="0.8"/>
<line x1="120.41" y1="273.24" x2="120.41" y2="283.24" stroke="#555555" stroke-width="0.8"/>
<line x1="117.31" y1="273.24" x2="123.51" y2="273.24" stroke="#555555" stroke-width="0.8"/>
<line x1="117.31" y1="283.24" x2="123.51" y2="283.24" stroke="#555555" stroke-width="0.8"/>
<line x1="133.1" y1="254.59" x2="133.1" y2="270.59" stroke="#555555" stroke-width="0.8"/>
<line x1="130" y1="254.59" x2="136.2" y2="254.59" stroke="#555555" stroke-width="0.8"/>
<line x1="130" y1="270.59" x2="136.2" y2="270.59" stroke="#555555" stroke-width="0.8"/>
<polyline points="78.11,304.23 90.8,299.06 103.49,292.17 120.41,278.24 133.1,262.59" fill="none" stroke="#111" stroke-width="0.9"/>
<circle cx="78.11" cy="304.23" r="3.45" fill="#bababa" stroke="#1a1a1a" stroke-width="0.85"/>
<circle cx="90.8" cy="299.06" r="3.45" fill="#bababa" stroke="#1a1a1a" stroke-width="0.85"/>
<circle cx="103.49" cy="292.17" r="3.45" fill="#bababa" stroke="#1a1a1a" stroke-width="0.85"/>
<circle cx="120.41" cy="278.24" r="3.45" fill="#bababa" stroke="#1a1a1a" stroke-width="0.85"/>
<circle cx="133.1" cy="262.59" r="3.45" fill="#bababa" stroke="#1a1a1a" stroke-width="0.85"/>
<circle cx="55.3" cy="200.2" r="3.8" fill="#bababa" stroke="#1a1a1a" stroke-width="0.85"/>
<circle cx="55.3" cy="212.6" r="3.8" fill="#b181c1" stroke="#1a1a1a" stroke-width="0.85"/>
<line x1="63.5" y1="199" x2="63.5" y2="213" stroke="#555" stroke-width="0.95"/>
<text x="67.4" y="205.9" text-anchor="middle" font-size="7.9" transform="rotate(90 67.4 205.9)">0.0015</text>
<text x="261.5" y="183.3" text-anchor="middle">d28-inv AT3-OVA</text>
<line x1="208.5" y1="197.8" x2="208.5" y2="308" stroke="#7c7c7c" stroke-width="1"/>
<text x="200.3" y="306.3" text-anchor="end">0</text>
<line x1="204" y1="277.07" x2="208" y2="277.07" stroke="#7a7a7a" stroke-width="0.9"/>
<text x="200.3" y="279.88" text-anchor="end">200</text>
<line x1="204" y1="250.65" x2="208" y2="250.65" stroke="#7a7a7a" stroke-width="0.9"/>
<text x="200.3" y="253.45" text-anchor="end">400</text>
<line x1="204" y1="224.23" x2="208" y2="224.23" stroke="#7a7a7a" stroke-width="0.9"/>
<text x="200.3" y="227.03" text-anchor="end">600</text>
<line x1="204" y1="197.8" x2="208" y2="197.8" stroke="#7a7a7a" stroke-width="0.9"/>
<text x="200.3" y="200.6" text-anchor="end">800</text>
<line x1="204" y1="303.5" x2="314.2" y2="303.5" stroke="#8c8c8c" stroke-width="0.9"/>
<line x1="208.5" y1="303.5" x2="208.5" y2="308" stroke="#7a7a7a" stroke-width="0.9"/>
<text x="208.5" y="317.7" text-anchor="middle">0</text>
<line x1="229.65" y1="303.5" x2="229.65" y2="308" stroke="#7a7a7a" stroke-width="0.9"/>
<text x="229.65" y="317.7" text-anchor="middle">5</text>
<line x1="250.8" y1="303.5" x2="250.8" y2="308" stroke="#7a7a7a" stroke-width="0.9"/>
<text x="250.8" y="317.7" text-anchor="middle">10</text>
<line x1="271.95" y1="303.5" x2="271.95" y2="308" stroke="#7a7a7a" stroke-width="0.9"/>
<text x="271.95" y="317.7" text-anchor="middle">15</text>
<line x1="293.1" y1="303.5" x2="293.1" y2="308" stroke="#7a7a7a" stroke-width="0.9"/>
<text x="293.1" y="317.7" text-anchor="middle">20</text>
<line x1="314.25" y1="303.5" x2="314.25" y2="308" stroke="#7a7a7a" stroke-width="0.9"/>
<text x="314.25" y="317.7" text-anchor="middle">25</text>
<text x="261.5" y="330.2" text-anchor="middle" font-size="7.85">Time (days)</text>
<text x="181.7" y="250.3" text-anchor="middle" font-size="7.9" transform="rotate(-90 181.7 250.3)">Tumour volume (mm<tspan baseline-shift="2.9" font-size="5.2">3</tspan>)</text>
<line x1="250.8" y1="296.55" x2="250.8" y2="298.55" stroke="#555555" stroke-width="0.8"/>
<line x1="247.7" y1="296.55" x2="253.9" y2="296.55" stroke="#555555" stroke-width="0.8"/>
<line x1="247.7" y1="298.55" x2="253.9" y2="298.55" stroke="#555555" stroke-width="0.8"/>
<line x1="263.49" y1="284.85" x2="263.49" y2="288.85" stroke="#555555" stroke-width="0.8"/>
<line x1="260.39" y1="284.85" x2="266.59" y2="284.85" stroke="#555555" stroke-width="0.8"/>
<line x1="260.39" y1="288.85" x2="266.59" y2="288.85" stroke="#555555" stroke-width="0.8"/>
<line x1="280.41" y1="257.04" x2="280.41" y2="268.04" stroke="#555555" stroke-width="0.8"/>
<line x1="277.31" y1="257.04" x2="283.51" y2="257.04" stroke="#555555" stroke-width="0.8"/>
<line x1="277.31" y1="268.04" x2="283.51" y2="268.04" stroke="#555555" stroke-width="0.8"/>
<line x1="293.1" y1="222.77" x2="293.1" y2="236.77" stroke="#555555" stroke-width="0.8"/>
<line x1="290" y1="222.77" x2="296.2" y2="222.77" stroke="#555555" stroke-width="0.8"/>
<line x1="290" y1="236.77" x2="296.2" y2="236.77" stroke="#555555" stroke-width="0.8"/>
<polyline points="238.11,303.24 250.8,297.55 263.49,286.85 280.41,262.54 293.1,229.77" fill="none" stroke="#111" stroke-width="0.9"/>
<circle cx="238.11" cy="303.24" r="3.45" fill="#b181c1" stroke="#1a1a1a" stroke-width="0.85"/>
<circle cx="250.8" cy="297.55" r="3.45" fill="#b181c1" stroke="#1a1a1a" stroke-width="0.85"/>
<circle cx="263.49" cy="286.85" r="3.45" fill="#b181c1" stroke="#1a1a1a" stroke-width="0.85"/>
<circle cx="280.41" cy="262.54" r="3.45" fill="#b181c1" stroke="#1a1a1a" stroke-width="0.85"/>
<circle cx="293.1" cy="229.77" r="3.45" fill="#b181c1" stroke="#1a1a1a" stroke-width="0.85"/>
<line x1="250.8" y1="297.88" x2="250.8" y2="299.88" stroke="#555555" stroke-width="0.8"/>
<line x1="247.7" y1="297.88" x2="253.9" y2="297.88" stroke="#555555" stroke-width="0.8"/>
<line x1="247.7" y1="299.88" x2="253.9" y2="299.88" stroke="#555555" stroke-width="0.8"/>
<line x1="263.49" y1="289.61" x2="263.49" y2="293.61" stroke="#555555" stroke-width="0.8"/>
<line x1="260.39" y1="289.61" x2="266.59" y2="289.61" stroke="#555555" stroke-width="0.8"/>
<line x1="260.39" y1="293.61" x2="266.59" y2="293.61" stroke="#555555" stroke-width="0.8"/>
<line x1="280.41" y1="273.31" x2="280.41" y2="280.31" stroke="#555555" stroke-width="0.8"/>
<line x1="277.31" y1="273.31" x2="283.51" y2="273.31" stroke="#555555" stroke-width="0.8"/>
<line x1="277.31" y1="280.31" x2="283.51" y2="280.31" stroke="#555555" stroke-width="0.8"/>
<line x1="293.1" y1="247.53" x2="293.1" y2="257.73" stroke="#555555" stroke-width="0.8"/>
<line x1="290" y1="247.53" x2="296.2" y2="247.53" stroke="#555555" stroke-width="0.8"/>
<line x1="290" y1="257.73" x2="296.2" y2="257.73" stroke="#555555" stroke-width="0.8"/>
<polyline points="238.11,303.24 250.8,298.88 263.49,291.61 280.41,276.81 293.1,252.63" fill="none" stroke="#111" stroke-width="0.9"/>
<circle cx="238.11" cy="303.24" r="3.45" fill="#3c8a3c" stroke="#1a1a1a" stroke-width="0.85"/>
<circle cx="250.8" cy="298.88" r="3.45" fill="#3c8a3c" stroke="#1a1a1a" stroke-width="0.85"/>
<circle cx="263.49" cy="291.61" r="3.45" fill="#3c8a3c" stroke="#1a1a1a" stroke-width="0.85"/>
<circle cx="280.41" cy="276.81" r="3.45" fill="#3c8a3c" stroke="#1a1a1a" stroke-width="0.85"/>
<circle cx="293.1" cy="252.63" r="3.45" fill="#3c8a3c" stroke="#1a1a1a" stroke-width="0.85"/>
<line x1="250.8" y1="297.88" x2="250.8" y2="299.88" stroke="#555555" stroke-width="0.8"/>
<line x1="247.7" y1="297.88" x2="253.9" y2="297.88" stroke="#555555" stroke-width="0.8"/>
<line x1="247.7" y1="299.88" x2="253.9" y2="299.88" stroke="#555555" stroke-width="0.8"/>
<line x1="263.49" y1="288.42" x2="263.49" y2="292.42" stroke="#555555" stroke-width="0.8"/>
<line x1="260.39" y1="288.42" x2="266.59" y2="288.42" stroke="#555555" stroke-width="0.8"/>
<line x1="260.39" y1="292.42" x2="266.59" y2="292.42" stroke="#555555" stroke-width="0.8"/>
<line x1="280.41" y1="267.92" x2="280.41" y2="275.92" stroke="#555555" stroke-width="0.8"/>
<line x1="277.31" y1="267.92" x2="283.51" y2="267.92" stroke="#555555" stroke-width="0.8"/>
<line x1="277.31" y1="275.92" x2="283.51" y2="275.92" stroke="#555555" stroke-width="0.8"/>
<line x1="293.1" y1="255.27" x2="293.1" y2="264.27" stroke="#555555" stroke-width="0.8"/>
<line x1="290" y1="255.27" x2="296.2" y2="255.27" stroke="#555555" stroke-width="0.8"/>
<line x1="290" y1="264.27" x2="296.2" y2="264.27" stroke="#555555" stroke-width="0.8"/>
<polyline points="238.11,303.24 250.8,298.88 263.49,290.42 280.41,271.92 293.1,259.77" fill="none" stroke="#111" stroke-width="0.9"/>
<circle cx="238.11" cy="303.24" r="3.45" fill="#6fcaf1" stroke="#1a1a1a" stroke-width="0.85"/>
<circle cx="250.8" cy="298.88" r="3.45" fill="#6fcaf1" stroke="#1a1a1a" stroke-width="0.85"/>
<circle cx="263.49" cy="290.42" r="3.45" fill="#6fcaf1" stroke="#1a1a1a" stroke-width="0.85"/>
<circle cx="280.41" cy="271.92" r="3.45" fill="#6fcaf1" stroke="#1a1a1a" stroke-width="0.85"/>
<circle cx="293.1" cy="259.77" r="3.45" fill="#6fcaf1" stroke="#1a1a1a" stroke-width="0.85"/>
<line x1="250.8" y1="297.21" x2="250.8" y2="299.21" stroke="#555555" stroke-width="0.8"/>
<line x1="247.7" y1="297.21" x2="253.9" y2="297.21" stroke="#555555" stroke-width="0.8"/>
<line x1="247.7" y1="299.21" x2="253.9" y2="299.21" stroke="#555555" stroke-width="0.8"/>
<line x1="263.49" y1="292.91" x2="263.49" y2="296.91" stroke="#555555" stroke-width="0.8"/>
<line x1="260.39" y1="292.91" x2="266.59" y2="292.91" stroke="#555555" stroke-width="0.8"/>
<line x1="260.39" y1="296.91" x2="266.59" y2="296.91" stroke="#555555" stroke-width="0.8"/>
<line x1="280.41" y1="290.93" x2="280.41" y2="294.93" stroke="#555555" stroke-width="0.8"/>
<line x1="277.31" y1="290.93" x2="283.51" y2="290.93" stroke="#555555" stroke-width="0.8"/>
<line x1="277.31" y1="294.93" x2="283.51" y2="294.93" stroke="#555555" stroke-width="0.8"/>
<line x1="293.1" y1="283.72" x2="293.1" y2="289.72" stroke="#555555" stroke-width="0.8"/>
<line x1="290" y1="283.72" x2="296.2" y2="283.72" stroke="#555555" stroke-width="0.8"/>
<line x1="290" y1="289.72" x2="296.2" y2="289.72" stroke="#555555" stroke-width="0.8"/>
<polyline points="238.11,303.24 250.8,298.21 263.49,294.91 280.41,292.93 293.1,286.72" fill="none" stroke="#111" stroke-width="0.9"/>
<circle cx="238.11" cy="303.24" r="3.45" fill="#e8291f" stroke="#1a1a1a" stroke-width="0.85"/>
<circle cx="250.8" cy="298.21" r="3.45" fill="#e8291f" stroke="#1a1a1a" stroke-width="0.85"/>
<circle cx="263.49" cy="294.91" r="3.45" fill="#e8291f" stroke="#1a1a1a" stroke-width="0.85"/>
<circle cx="280.41" cy="292.93" r="3.45" fill="#e8291f" stroke="#1a1a1a" stroke-width="0.85"/>
<circle cx="293.1" cy="286.72" r="3.45" fill="#e8291f" stroke="#1a1a1a" stroke-width="0.85"/>
<line x1="250.8" y1="299.2" x2="250.8" y2="301.2" stroke="#555555" stroke-width="0.8"/>
<line x1="247.7" y1="299.2" x2="253.9" y2="299.2" stroke="#555555" stroke-width="0.8"/>
<line x1="247.7" y1="301.2" x2="253.9" y2="301.2" stroke="#555555" stroke-width="0.8"/>
<line x1="263.49" y1="293.7" x2="263.49" y2="297.7" stroke="#555555" stroke-width="0.8"/>
<line x1="260.39" y1="293.7" x2="266.59" y2="293.7" stroke="#555555" stroke-width="0.8"/>
<line x1="260.39" y1="297.7" x2="266.59" y2="297.7" stroke="#555555" stroke-width="0.8"/>
<line x1="280.41" y1="285.17" x2="280.41" y2="291.17" stroke="#555555" stroke-width="0.8"/>
<line x1="277.31" y1="285.17" x2="283.51" y2="285.17" stroke="#555555" stroke-width="0.8"/>
<line x1="277.31" y1="291.17" x2="283.51" y2="291.17" stroke="#555555" stroke-width="0.8"/>
<line x1="293.1" y1="273.71" x2="293.1" y2="280.71" stroke="#555555" stroke-width="0.8"/>
<line x1="290" y1="273.71" x2="296.2" y2="273.71" stroke="#555555" stroke-width="0.8"/>
<line x1="290" y1="280.71" x2="296.2" y2="280.71" stroke="#555555" stroke-width="0.8"/>
<polyline points="238.11,303.24 250.8,300.2 263.49,295.7 280.41,288.17 293.1,277.21" fill="none" stroke="#111" stroke-width="0.9"/>
<circle cx="238.11" cy="303.24" r="3.45" fill="#bababa" stroke="#1a1a1a" stroke-width="0.85"/>
<circle cx="250.8" cy="300.2" r="3.45" fill="#bababa" stroke="#1a1a1a" stroke-width="0.85"/>
<circle cx="263.49" cy="295.7" r="3.45" fill="#bababa" stroke="#1a1a1a" stroke-width="0.85"/>
<circle cx="280.41" cy="288.17" r="3.45" fill="#bababa" stroke="#1a1a1a" stroke-width="0.85"/>
<circle cx="293.1" cy="277.21" r="3.45" fill="#bababa" stroke="#1a1a1a" stroke-width="0.85"/>
<circle cx="216.3" cy="199" r="3.6" fill="#bababa" stroke="#1a1a1a" stroke-width="0.85"/>
<circle cx="216.3" cy="211.2" r="3.6" fill="#e8291f" stroke="#1a1a1a" stroke-width="0.85"/>
<circle cx="216.3" cy="223.4" r="3.6" fill="#6fcaf1" stroke="#1a1a1a" stroke-width="0.85"/>
<circle cx="216.3" cy="235.6" r="3.6" fill="#3c8a3c" stroke="#1a1a1a" stroke-width="0.85"/>
<circle cx="216.3" cy="247.8" r="3.6" fill="#b181c1" stroke="#1a1a1a" stroke-width="0.85"/>
<line x1="222.5" y1="198.8" x2="222.5" y2="212.7" stroke="#bdbdbd" stroke-width="0.95"/>
<line x1="235.5" y1="198.8" x2="235.5" y2="222.3" stroke="#bdbdbd" stroke-width="0.95"/>
<line x1="251.5" y1="198.8" x2="251.5" y2="237.7" stroke="#bdbdbd" stroke-width="0.95"/>
<line x1="262.5" y1="198.8" x2="262.5" y2="247.5" stroke="#bdbdbd" stroke-width="0.95"/>
<text x="225.6" y="205.9" text-anchor="middle" transform="rotate(90 225.6 205.9)">0.048</text>
<text x="239" y="211.1" text-anchor="middle" transform="rotate(90 239 211.1)">0.009</text>
<text x="253" y="218.9" text-anchor="middle" transform="rotate(90 253 218.9)">0.0009</text>
<text x="265" y="223.4" text-anchor="middle" transform="rotate(90 265 223.4)">&lt;0.0001</text>
<circle cx="326.8" cy="223.4" r="3.7" fill="#bababa" stroke="#1a1a1a" stroke-width="0.85"/>
<text x="334" y="226.3" font-size="7.9">Isotype</text>
<circle cx="326.8" cy="239.55" r="3.7" fill="#e8291f" stroke="#1a1a1a" stroke-width="0.85"/>
<text x="334" y="242.45" font-size="7.9">Anti-CD4</text>
<circle cx="326.8" cy="255.7" r="3.7" fill="#6fcaf1" stroke="#1a1a1a" stroke-width="0.85"/>
<text x="334" y="258.6" font-size="7.9">Anti-CD8α</text>
<circle cx="326.8" cy="271.85" r="3.7" fill="#3c8a3c" stroke="#1a1a1a" stroke-width="0.85"/>
<text x="334" y="274.75" font-size="7.9">Anti-CD8β</text>
<circle cx="326.8" cy="288" r="3.7" fill="#b181c1" stroke="#1a1a1a" stroke-width="0.85"/>
<text x="334" y="290.9" font-size="7.9">Anti-CD4/CD8α</text>
<text x="407.4" y="174.8" font-size="11" font-weight="bold" fill="#000">e</text>
<text x="466.5" y="176.3" text-anchor="middle">Virgin AT3-OVA</text>
<line x1="438.5" y1="197.8" x2="438.5" y2="303.5" stroke="#7c7c7c" stroke-width="1"/>
<text x="430.7" y="306.3" text-anchor="end">0</text>
<line x1="434" y1="277.15" x2="438" y2="277.15" stroke="#7a7a7a" stroke-width="0.9"/>
<text x="430.7" y="279.95" text-anchor="end">0.5</text>
<line x1="434" y1="250.8" x2="438" y2="250.8" stroke="#7a7a7a" stroke-width="0.9"/>
<text x="430.7" y="253.6" text-anchor="end">1.0</text>
<line x1="434" y1="224.45" x2="438" y2="224.45" stroke="#7a7a7a" stroke-width="0.9"/>
<text x="430.7" y="227.25" text-anchor="end">1.5</text>
<line x1="434" y1="198.1" x2="438" y2="198.1" stroke="#7a7a7a" stroke-width="0.9"/>
<text x="430.7" y="200.9" text-anchor="end">2.0</text>
<line x1="434" y1="303.5" x2="508.6" y2="303.5" stroke="#8c8c8c" stroke-width="0.9"/>
<line x1="447.1" y1="303.5" x2="447.1" y2="308" stroke="#7a7a7a" stroke-width="0.9"/>
<line x1="460.2" y1="303.5" x2="460.2" y2="308" stroke="#7a7a7a" stroke-width="0.9"/>
<line x1="473.2" y1="303.5" x2="473.2" y2="308" stroke="#7a7a7a" stroke-width="0.9"/>
<line x1="486.2" y1="303.5" x2="486.2" y2="308" stroke="#7a7a7a" stroke-width="0.9"/>
<line x1="499.5" y1="303.5" x2="499.5" y2="308" stroke="#7a7a7a" stroke-width="0.9"/>
<rect x="443.05" y="276.1" width="8.1" height="27.4" fill="#bababa" stroke="#1a1a1a" stroke-width="0.6"/>
<rect x="456.15" y="277.94" width="8.1" height="25.56" fill="#e8291f" stroke="#1a1a1a" stroke-width="0.6"/>
<rect x="469.15" y="270.83" width="8.1" height="32.67" fill="#6fcaf1" stroke="#1a1a1a" stroke-width="0.6"/>
<rect x="482.15" y="264.77" width="8.1" height="38.73" fill="#3c8a3c" stroke="#1a1a1a" stroke-width="0.6"/>
<rect x="495.45" y="241.84" width="8.1" height="61.66" fill="#b181c1" stroke="#1a1a1a" stroke-width="0.6"/>
<line x1="473.2" y1="266.61" x2="473.2" y2="275.04" stroke="#555" stroke-width="0.85"/>
<line x1="470.7" y1="266.61" x2="475.7" y2="266.61" stroke="#555" stroke-width="0.85"/>
<line x1="486.2" y1="260.81" x2="486.2" y2="268.72" stroke="#555" stroke-width="0.85"/>
<line x1="483.7" y1="260.81" x2="488.7" y2="260.81" stroke="#555" stroke-width="0.85"/>
<line x1="499.5" y1="237.1" x2="499.5" y2="246.58" stroke="#555" stroke-width="0.85"/>
<line x1="497" y1="237.1" x2="502" y2="237.1" stroke="#555" stroke-width="0.85"/>
<circle cx="446.1" cy="227.61" r="2.95" fill="#ffffff" stroke="#1a1a1a" stroke-width="0.75"/>
<circle cx="446.1" cy="238.68" r="2.95" fill="#ffffff" stroke="#1a1a1a" stroke-width="0.75"/>
<circle cx="447.1" cy="251.33" r="2.95" fill="#ffffff" stroke="#1a1a1a" stroke-width="0.75"/>
<circle cx="446.1" cy="251.85" r="2.95" fill="#ffffff" stroke="#1a1a1a" stroke-width="0.75"/>
<circle cx="445.1" cy="263.45" r="2.95" fill="#ffffff" stroke="#1a1a1a" stroke-width="0.75"/>
<circle cx="449.6" cy="263.45" r="2.95" fill="#ffffff" stroke="#1a1a1a" stroke-width="0.75"/>
<circle cx="445.9" cy="267.14" r="2.95" fill="#ffffff" stroke="#1a1a1a" stroke-width="0.75"/>
<circle cx="445.3" cy="269.25" r="2.95" fill="#ffffff" stroke="#1a1a1a" stroke-width="0.75"/>
<circle cx="448.9" cy="268.72" r="2.95" fill="#ffffff" stroke="#1a1a1a" stroke-width="0.75"/>
<circle cx="447.1" cy="270.83" r="2.95" fill="#ffffff" stroke="#1a1a1a" stroke-width="0.75"/>
<circle cx="445.1" cy="275.57" r="2.95" fill="#ffffff" stroke="#1a1a1a" stroke-width="0.75"/>
<circle cx="449.1" cy="274.51" r="2.95" fill="#ffffff" stroke="#1a1a1a" stroke-width="0.75"/>
<circle cx="447.1" cy="278.73" r="2.95" fill="#ffffff" stroke="#1a1a1a" stroke-width="0.75"/>
<circle cx="447.1" cy="286.11" r="2.95" fill="#ffffff" stroke="#1a1a1a" stroke-width="0.75"/>
<circle cx="447.1" cy="297.18" r="2.95" fill="#ffffff" stroke="#1a1a1a" stroke-width="0.75"/>
<circle cx="448.1" cy="265.56" r="2.95" fill="#ffffff" stroke="#1a1a1a" stroke-width="0.75"/>
<circle cx="460.2" cy="224.45" r="2.95" fill="#ffffff" stroke="#1a1a1a" stroke-width="0.75"/>
<circle cx="462.7" cy="267.14" r="2.95" fill="#ffffff" stroke="#1a1a1a" stroke-width="0.75"/>
<circle cx="459.2" cy="269.25" r="2.95" fill="#ffffff" stroke="#1a1a1a" stroke-width="0.75"/>
<circle cx="461.2" cy="268.19" r="2.95" fill="#ffffff" stroke="#1a1a1a" stroke-width="0.75"/>
<circle cx="458.7" cy="276.1" r="2.95" fill="#ffffff" stroke="#1a1a1a" stroke-width="0.75"/>
<circle cx="461.2" cy="278.73" r="2.95" fill="#ffffff" stroke="#1a1a1a" stroke-width="0.75"/>
<circle cx="462.7" cy="280.84" r="2.95" fill="#ffffff" stroke="#1a1a1a" stroke-width="0.75"/>
<circle cx="460.2" cy="285.06" r="2.95" fill="#ffffff" stroke="#1a1a1a" stroke-width="0.75"/>
<circle cx="458.2" cy="290.32" r="2.95" fill="#ffffff" stroke="#1a1a1a" stroke-width="0.75"/>
<circle cx="461.2" cy="291.91" r="2.95" fill="#ffffff" stroke="#1a1a1a" stroke-width="0.75"/>
<circle cx="460.2" cy="298.23" r="2.95" fill="#ffffff" stroke="#1a1a1a" stroke-width="0.75"/>
<circle cx="471.7" cy="250.27" r="2.95" fill="#ffffff" stroke="#1a1a1a" stroke-width="0.75"/>
<circle cx="475.4" cy="249.22" r="2.95" fill="#ffffff" stroke="#1a1a1a" stroke-width="0.75"/>
<circle cx="471.7" cy="258.18" r="2.95" fill="#ffffff" stroke="#1a1a1a" stroke-width="0.75"/>
<circle cx="475.2" cy="258.18" r="2.95" fill="#ffffff" stroke="#1a1a1a" stroke-width="0.75"/>
<circle cx="473.2" cy="269.77" r="2.95" fill="#ffffff" stroke="#1a1a1a" stroke-width="0.75"/>
<circle cx="475.2" cy="278.2" r="2.95" fill="#ffffff" stroke="#1a1a1a" stroke-width="0.75"/>
<circle cx="471.7" cy="282.95" r="2.95" fill="#ffffff" stroke="#1a1a1a" stroke-width="0.75"/>
<circle cx="473.2" cy="290.32" r="2.95" fill="#ffffff" stroke="#1a1a1a" stroke-width="0.75"/>
<circle cx="473.2" cy="297.7" r="2.95" fill="#ffffff" stroke="#1a1a1a" stroke-width="0.75"/>
<circle cx="469.2" cy="251.33" r="2.95" fill="#ffffff" stroke="#1a1a1a" stroke-width="0.75"/>
<circle cx="472.2" cy="252.38" r="2.95" fill="#ffffff" stroke="#1a1a1a" stroke-width="0.75"/>
<circle cx="486.7" cy="245.53" r="2.95" fill="#ffffff" stroke="#1a1a1a" stroke-width="0.75"/>
<circle cx="485.2" cy="248.16" r="2.95" fill="#ffffff" stroke="#1a1a1a" stroke-width="0.75"/>
<circle cx="486.2" cy="254.49" r="2.95" fill="#ffffff" stroke="#1a1a1a" stroke-width="0.75"/>
<circle cx="484.7" cy="257.12" r="2.95" fill="#ffffff" stroke="#1a1a1a" stroke-width="0.75"/>
<circle cx="487.7" cy="258.7" r="2.95" fill="#ffffff" stroke="#1a1a1a" stroke-width="0.75"/>
<circle cx="485.2" cy="263.45" r="2.95" fill="#ffffff" stroke="#1a1a1a" stroke-width="0.75"/>
<circle cx="488.7" cy="262.92" r="2.95" fill="#ffffff" stroke="#1a1a1a" stroke-width="0.75"/>
<circle cx="486.2" cy="269.77" r="2.95" fill="#ffffff" stroke="#1a1a1a" stroke-width="0.75"/>
<circle cx="486.2" cy="279.26" r="2.95" fill="#ffffff" stroke="#1a1a1a" stroke-width="0.75"/>
<circle cx="486.2" cy="292.43" r="2.95" fill="#ffffff" stroke="#1a1a1a" stroke-width="0.75"/>
<circle cx="485.2" cy="250.8" r="2.95" fill="#ffffff" stroke="#1a1a1a" stroke-width="0.75"/>
<circle cx="499.5" cy="204.95" r="2.95" fill="#ffffff" stroke="#1a1a1a" stroke-width="0.75"/>
<circle cx="499.5" cy="213.91" r="2.95" fill="#ffffff" stroke="#1a1a1a" stroke-width="0.75"/>
<circle cx="499.5" cy="224.45" r="2.95" fill="#ffffff" stroke="#1a1a1a" stroke-width="0.75"/>
<circle cx="499.5" cy="233.94" r="2.95" fill="#ffffff" stroke="#1a1a1a" stroke-width="0.75"/>
<circle cx="499.5" cy="236.57" r="2.95" fill="#ffffff" stroke="#1a1a1a" stroke-width="0.75"/>
<circle cx="500" cy="239.21" r="2.95" fill="#ffffff" stroke="#1a1a1a" stroke-width="0.75"/>
<circle cx="499.5" cy="242.9" r="2.95" fill="#ffffff" stroke="#1a1a1a" stroke-width="0.75"/>
<circle cx="501.3" cy="250.27" r="2.95" fill="#ffffff" stroke="#1a1a1a" stroke-width="0.75"/>
<circle cx="498.3" cy="250.8" r="2.95" fill="#ffffff" stroke="#1a1a1a" stroke-width="0.75"/>
<circle cx="500" cy="252.91" r="2.95" fill="#ffffff" stroke="#1a1a1a" stroke-width="0.75"/>
<circle cx="498" cy="256.07" r="2.95" fill="#ffffff" stroke="#1a1a1a" stroke-width="0.75"/>
<circle cx="501.5" cy="256.07" r="2.95" fill="#ffffff" stroke="#1a1a1a" stroke-width="0.75"/>
<circle cx="500" cy="261.87" r="2.95" fill="#ffffff" stroke="#1a1a1a" stroke-width="0.75"/>
<circle cx="499" cy="246.58" r="2.95" fill="#ffffff" stroke="#1a1a1a" stroke-width="0.75"/>
<line x1="447.4" y1="189.5" x2="499.6" y2="189.5" stroke="#666666" stroke-width="0.95"/>
<text x="471.6" y="187.1" text-anchor="middle">0.0001</text>
<line x1="447.4" y1="199.5" x2="486.3" y2="199.5" stroke="#666666" stroke-width="0.95"/>
<text x="467.9" y="197.2" text-anchor="middle">0.54</text>
<line x1="447.4" y1="209.5" x2="473.4" y2="209.5" stroke="#666666" stroke-width="0.95"/>
<text x="460.3" y="207" text-anchor="middle">0.59</text>
<line x1="447.4" y1="219.5" x2="460.3" y2="219.5" stroke="#666666" stroke-width="0.95"/>
<text x="453.6" y="217.3" text-anchor="middle">0.12</text>
<text x="413.8" y="250.8" text-anchor="middle" font-size="8.3" transform="rotate(-90 413.8 250.8)">End-point tumour weight (g)</text>
<text x="449.5" y="314.4" text-anchor="end" transform="rotate(-45 449.5 314.4)">Isotype</text>
<text x="462.6" y="314.4" text-anchor="end" transform="rotate(-45 462.6 314.4)">Anti-CD4</text>
<text x="475.6" y="314.4" text-anchor="end" transform="rotate(-45 475.6 314.4)">Anti-CD8α</text>
<text x="488.6" y="314.4" text-anchor="end" transform="rotate(-45 488.6 314.4)">Anti-CD8β</text>
<text x="501.9" y="314.4" text-anchor="end" transform="rotate(-45 501.9 314.4)">Anti-CD4/CD8α</text>
<text x="612" y="176.3" text-anchor="middle">d28-inv AT3-OVA</text>
<line x1="582.5" y1="196.8" x2="582.5" y2="302.5" stroke="#7c7c7c" stroke-width="1"/>
<text x="576.5" y="305.3" text-anchor="end">0</text>
<line x1="578" y1="276.15" x2="582" y2="276.15" stroke="#7a7a7a" stroke-width="0.9"/>
<text x="576.5" y="278.95" text-anchor="end">0.5</text>
<line x1="578" y1="249.8" x2="582" y2="249.8" stroke="#7a7a7a" stroke-width="0.9"/>
<text x="576.5" y="252.6" text-anchor="end">1.0</text>
<line x1="578" y1="223.45" x2="582" y2="223.45" stroke="#7a7a7a" stroke-width="0.9"/>
<text x="576.5" y="226.25" text-anchor="end">1.5</text>
<line x1="578" y1="197.1" x2="582" y2="197.1" stroke="#7a7a7a" stroke-width="0.9"/>
<text x="576.5" y="199.9" text-anchor="end">2.0</text>
<line x1="578" y1="302.5" x2="652.6" y2="302.5" stroke="#8c8c8c" stroke-width="0.9"/>
<line x1="591" y1="302.5" x2="591" y2="307" stroke="#7a7a7a" stroke-width="0.9"/>
<line x1="604" y1="302.5" x2="604" y2="307" stroke="#7a7a7a" stroke-width="0.9"/>
<line x1="617.2" y1="302.5" x2="617.2" y2="307" stroke="#7a7a7a" stroke-width="0.9"/>
<line x1="630.4" y1="302.5" x2="630.4" y2="307" stroke="#7a7a7a" stroke-width="0.9"/>
<line x1="643.5" y1="302.5" x2="643.5" y2="307" stroke="#7a7a7a" stroke-width="0.9"/>
<rect x="586.95" y="278.26" width="8.1" height="24.24" fill="#bababa" stroke="#1a1a1a" stroke-width="0.6"/>
<rect x="599.95" y="291.96" width="8.1" height="10.54" fill="#e8291f" stroke="#1a1a1a" stroke-width="0.6"/>
<rect x="613.15" y="267.19" width="8.1" height="35.31" fill="#6fcaf1" stroke="#1a1a1a" stroke-width="0.6"/>
<rect x="626.35" y="263.5" width="8.1" height="39" fill="#3c8a3c" stroke="#1a1a1a" stroke-width="0.6"/>
<rect x="639.45" y="242.95" width="8.1" height="59.55" fill="#b181c1" stroke="#1a1a1a" stroke-width="0.6"/>
<line x1="604" y1="288.8" x2="604" y2="295.12" stroke="#555" stroke-width="0.85"/>
<line x1="601.5" y1="288.8" x2="606.5" y2="288.8" stroke="#555" stroke-width="0.85"/>
<line x1="617.2" y1="264.03" x2="617.2" y2="270.35" stroke="#555" stroke-width="0.85"/>
<line x1="614.7" y1="264.03" x2="619.7" y2="264.03" stroke="#555" stroke-width="0.85"/>
<line x1="643.5" y1="239.26" x2="643.5" y2="246.64" stroke="#555" stroke-width="0.85"/>
<line x1="641" y1="239.26" x2="646" y2="239.26" stroke="#555" stroke-width="0.85"/>
<circle cx="591" cy="264.56" r="2.95" fill="#ffffff" stroke="#1a1a1a" stroke-width="0.75"/>
<circle cx="589.5" cy="273.51" r="2.95" fill="#ffffff" stroke="#1a1a1a" stroke-width="0.75"/>
<circle cx="592.5" cy="274.57" r="2.95" fill="#ffffff" stroke="#1a1a1a" stroke-width="0.75"/>
<circle cx="589" cy="279.31" r="2.95" fill="#ffffff" stroke="#1a1a1a" stroke-width="0.75"/>
<circle cx="591" cy="282.47" r="2.95" fill="#ffffff" stroke="#1a1a1a" stroke-width="0.75"/>
<circle cx="593" cy="282.47" r="2.95" fill="#ffffff" stroke="#1a1a1a" stroke-width="0.75"/>
<circle cx="591.5" cy="287.74" r="2.95" fill="#ffffff" stroke="#1a1a1a" stroke-width="0.75"/>
<circle cx="589.5" cy="292.49" r="2.95" fill="#ffffff" stroke="#1a1a1a" stroke-width="0.75"/>
<circle cx="591" cy="295.65" r="2.95" fill="#ffffff" stroke="#1a1a1a" stroke-width="0.75"/>
<circle cx="591" cy="299.34" r="2.95" fill="#ffffff" stroke="#1a1a1a" stroke-width="0.75"/>
<circle cx="592" cy="276.68" r="2.95" fill="#ffffff" stroke="#1a1a1a" stroke-width="0.75"/>
<circle cx="591" cy="285.11" r="2.95" fill="#ffffff" stroke="#1a1a1a" stroke-width="0.75"/>
<circle cx="604" cy="265.61" r="2.95" fill="#ffffff" stroke="#1a1a1a" stroke-width="0.75"/>
<circle cx="604" cy="278.78" r="2.95" fill="#ffffff" stroke="#1a1a1a" stroke-width="0.75"/>
<circle cx="604" cy="285.11" r="2.95" fill="#ffffff" stroke="#1a1a1a" stroke-width="0.75"/>
<circle cx="602.5" cy="291.96" r="2.95" fill="#ffffff" stroke="#1a1a1a" stroke-width="0.75"/>
<circle cx="602.5" cy="296.18" r="2.95" fill="#ffffff" stroke="#1a1a1a" stroke-width="0.75"/>
<circle cx="605.5" cy="296.18" r="2.95" fill="#ffffff" stroke="#1a1a1a" stroke-width="0.75"/>
<circle cx="616.2" cy="255.07" r="2.95" fill="#ffffff" stroke="#1a1a1a" stroke-width="0.75"/>
<circle cx="618" cy="259.81" r="2.95" fill="#ffffff" stroke="#1a1a1a" stroke-width="0.75"/>
<circle cx="616.2" cy="265.08" r="2.95" fill="#ffffff" stroke="#1a1a1a" stroke-width="0.75"/>
<circle cx="618" cy="270.88" r="2.95" fill="#ffffff" stroke="#1a1a1a" stroke-width="0.75"/>
<circle cx="616.2" cy="274.57" r="2.95" fill="#ffffff" stroke="#1a1a1a" stroke-width="0.75"/>
<circle cx="618.2" cy="276.68" r="2.95" fill="#ffffff" stroke="#1a1a1a" stroke-width="0.75"/>
<circle cx="615.2" cy="279.84" r="2.95" fill="#ffffff" stroke="#1a1a1a" stroke-width="0.75"/>
<circle cx="617.2" cy="256.12" r="2.95" fill="#ffffff" stroke="#1a1a1a" stroke-width="0.75"/>
<circle cx="630.4" cy="244.53" r="2.95" fill="#ffffff" stroke="#1a1a1a" stroke-width="0.75"/>
<circle cx="630.4" cy="246.64" r="2.95" fill="#ffffff" stroke="#1a1a1a" stroke-width="0.75"/>
<circle cx="630.4" cy="254.54" r="2.95" fill="#ffffff" stroke="#1a1a1a" stroke-width="0.75"/>
<circle cx="629.4" cy="259.81" r="2.95" fill="#ffffff" stroke="#1a1a1a" stroke-width="0.75"/>
<circle cx="631.4" cy="262.98" r="2.95" fill="#ffffff" stroke="#1a1a1a" stroke-width="0.75"/>
<circle cx="630.4" cy="268.25" r="2.95" fill="#ffffff" stroke="#1a1a1a" stroke-width="0.75"/>
<circle cx="629.4" cy="271.93" r="2.95" fill="#ffffff" stroke="#1a1a1a" stroke-width="0.75"/>
<circle cx="631.4" cy="271.93" r="2.95" fill="#ffffff" stroke="#1a1a1a" stroke-width="0.75"/>
<circle cx="630.4" cy="287.22" r="2.95" fill="#ffffff" stroke="#1a1a1a" stroke-width="0.75"/>
<circle cx="629.9" cy="257.18" r="2.95" fill="#ffffff" stroke="#1a1a1a" stroke-width="0.75"/>
<circle cx="643.5" cy="222.4" r="2.95" fill="#ffffff" stroke="#1a1a1a" stroke-width="0.75"/>
<circle cx="643.5" cy="226.61" r="2.95" fill="#ffffff" stroke="#1a1a1a" stroke-width="0.75"/>
<circle cx="643.5" cy="230.83" r="2.95" fill="#ffffff" stroke="#1a1a1a" stroke-width="0.75"/>
<circle cx="643.5" cy="240.84" r="2.95" fill="#ffffff" stroke="#1a1a1a" stroke-width="0.75"/>
<circle cx="644.7" cy="240.84" r="2.95" fill="#ffffff" stroke="#1a1a1a" stroke-width="0.75"/>
<circle cx="642.5" cy="244.53" r="2.95" fill="#ffffff" stroke="#1a1a1a" stroke-width="0.75"/>
<circle cx="643.5" cy="249.27" r="2.95" fill="#ffffff" stroke="#1a1a1a" stroke-width="0.75"/>
<circle cx="643.5" cy="255.6" r="2.95" fill="#ffffff" stroke="#1a1a1a" stroke-width="0.75"/>
<circle cx="644" cy="242.95" r="2.95" fill="#ffffff" stroke="#1a1a1a" stroke-width="0.75"/>
<circle cx="643" cy="247.16" r="2.95" fill="#ffffff" stroke="#1a1a1a" stroke-width="0.75"/>
<line x1="591.1" y1="191.5" x2="643.6" y2="191.5" stroke="#666666" stroke-width="0.95"/>
<text x="617.1" y="189.2" text-anchor="middle">&lt;0.0001</text>
<line x1="591.1" y1="202.5" x2="630.4" y2="202.5" stroke="#bdbdbd" stroke-width="0.95"/>
<text x="611.4" y="200.8" text-anchor="middle">&lt;0.0001</text>
<line x1="591.1" y1="214.5" x2="616.7" y2="214.5" stroke="#666666" stroke-width="0.95"/>
<text x="603.8" y="212.1" text-anchor="middle">0.0009</text>
<line x1="591.1" y1="225.5" x2="603.8" y2="225.5" stroke="#bdbdbd" stroke-width="0.95"/>
<text x="598" y="222.9" text-anchor="middle">0.009</text>
<text x="557.1" y="250.5" text-anchor="middle" font-size="8" transform="rotate(-90 557.1 250.5)">End-point tumour weight (g)</text>
<text x="593.4" y="313.4" text-anchor="end" transform="rotate(-45 593.4 313.4)">Isotype</text>
<text x="606.4" y="313.4" text-anchor="end" transform="rotate(-45 606.4 313.4)">Anti-CD4</text>
<text x="619.6" y="313.4" text-anchor="end" transform="rotate(-45 619.6 313.4)">Anti-CD8α</text>
<text x="632.8" y="313.4" text-anchor="end" transform="rotate(-45 632.8 313.4)">Anti-CD8β</text>
<text x="645.9" y="313.4" text-anchor="end" transform="rotate(-45 645.9 313.4)">Anti-CD4/CD8α</text>
<text x="-0.4" y="361.6" font-size="11" font-weight="bold" fill="#000">f</text>
<line x1="46.5" y1="369.1" x2="46.5" y2="475" stroke="#7c7c7c" stroke-width="1"/>
<text x="39.6" y="477.8" text-anchor="end">0</text>
<line x1="42" y1="453.2" x2="46" y2="453.2" stroke="#7a7a7a" stroke-width="0.9"/>
<text x="39.6" y="456" text-anchor="end">4</text>
<line x1="42" y1="432.3" x2="46" y2="432.3" stroke="#7a7a7a" stroke-width="0.9"/>
<text x="39.6" y="435.1" text-anchor="end">5</text>
<line x1="42" y1="411.4" x2="46" y2="411.4" stroke="#7a7a7a" stroke-width="0.9"/>
<text x="39.6" y="414.2" text-anchor="end">6</text>
<line x1="42" y1="390.5" x2="46" y2="390.5" stroke="#7a7a7a" stroke-width="0.9"/>
<text x="39.6" y="393.3" text-anchor="end">8</text>
<line x1="42" y1="369.1" x2="46" y2="369.1" stroke="#7a7a7a" stroke-width="0.9"/>
<text x="39.6" y="371.9" text-anchor="end">10</text>
<line x1="42" y1="475" x2="128.8" y2="475" stroke="#8c8c8c" stroke-width="0.9"/>
<line x1="59.8" y1="475" x2="59.8" y2="479.5" stroke="#7a7a7a" stroke-width="0.9"/>
<line x1="80.1" y1="475" x2="80.1" y2="479.5" stroke="#7a7a7a" stroke-width="0.9"/>
<line x1="100.5" y1="475" x2="100.5" y2="479.5" stroke="#7a7a7a" stroke-width="0.9"/>
<line x1="120.9" y1="475" x2="120.9" y2="479.5" stroke="#7a7a7a" stroke-width="0.9"/>
<rect x="53.5" y="430.3" width="12.5" height="44.7" fill="#5a62ad" stroke="#1a1a1a" stroke-width="0.6"/>
<rect x="94.4" y="419.4" width="12.3" height="55.6" fill="#f7941d" stroke="#1a1a1a" stroke-width="0.6"/>
<line x1="59.8" y1="425.5" x2="59.8" y2="435" stroke="#555" stroke-width="0.85"/>
<line x1="56.3" y1="425.5" x2="63.3" y2="425.5" stroke="#555" stroke-width="0.85"/>
<line x1="100.6" y1="411.4" x2="100.6" y2="425.5" stroke="#555" stroke-width="0.85"/>
<line x1="97.1" y1="411.4" x2="104.1" y2="411.4" stroke="#555" stroke-width="0.85"/>
<circle cx="55.8" cy="418.2" r="2.95" fill="#ffffff" stroke="#1a1a1a" stroke-width="0.75"/>
<circle cx="64.3" cy="412.6" r="2.95" fill="#ffffff" stroke="#1a1a1a" stroke-width="0.75"/>
<circle cx="64.3" cy="418.2" r="2.95" fill="#ffffff" stroke="#1a1a1a" stroke-width="0.75"/>
<circle cx="56.3" cy="430.3" r="2.95" fill="#ffffff" stroke="#1a1a1a" stroke-width="0.75"/>
<circle cx="63.5" cy="431" r="2.95" fill="#ffffff" stroke="#1a1a1a" stroke-width="0.75"/>
<circle cx="55.8" cy="439.3" r="2.95" fill="#ffffff" stroke="#1a1a1a" stroke-width="0.75"/>
<circle cx="64.3" cy="439.3" r="2.95" fill="#ffffff" stroke="#1a1a1a" stroke-width="0.75"/>
<circle cx="59.4" cy="448.5" r="2.95" fill="#ffffff" stroke="#1a1a1a" stroke-width="0.75"/>
<circle cx="102.8" cy="390.3" r="2.95" fill="#ffffff" stroke="#1a1a1a" stroke-width="0.75"/>
<circle cx="98.6" cy="393.7" r="2.95" fill="#ffffff" stroke="#1a1a1a" stroke-width="0.75"/>
<circle cx="100.2" cy="402.9" r="2.95" fill="#ffffff" stroke="#1a1a1a" stroke-width="0.75"/>
<circle cx="100.2" cy="416.5" r="2.95" fill="#ffffff" stroke="#1a1a1a" stroke-width="0.75"/>
<circle cx="96.5" cy="432.7" r="2.95" fill="#ffffff" stroke="#1a1a1a" stroke-width="0.75"/>
<circle cx="104.8" cy="435.2" r="2.95" fill="#ffffff" stroke="#1a1a1a" stroke-width="0.75"/>
<circle cx="100.2" cy="443.7" r="2.95" fill="#ffffff" stroke="#1a1a1a" stroke-width="0.75"/>
<circle cx="76.5" cy="473.3" r="2.95" fill="#ffffff" stroke="#1a1a1a" stroke-width="0.75"/>
<circle cx="78.5" cy="472.8" r="2.95" fill="#ffffff" stroke="#1a1a1a" stroke-width="0.75"/>
<circle cx="80.5" cy="473.5" r="2.95" fill="#ffffff" stroke="#1a1a1a" stroke-width="0.75"/>
<circle cx="82.5" cy="473.2" r="2.95" fill="#ffffff" stroke="#1a1a1a" stroke-width="0.75"/>
<circle cx="83.7" cy="473.6" r="2.95" fill="#ffffff" stroke="#1a1a1a" stroke-width="0.75"/>
<circle cx="79.5" cy="473.8" r="2.95" fill="#ffffff" stroke="#1a1a1a" stroke-width="0.75"/>
<circle cx="117.5" cy="473.3" r="2.95" fill="#ffffff" stroke="#1a1a1a" stroke-width="0.75"/>
<circle cx="119.5" cy="472.8" r="2.95" fill="#ffffff" stroke="#1a1a1a" stroke-width="0.75"/>
<circle cx="121.5" cy="473.5" r="2.95" fill="#ffffff" stroke="#1a1a1a" stroke-width="0.75"/>
<circle cx="123.5" cy="473.2" r="2.95" fill="#ffffff" stroke="#1a1a1a" stroke-width="0.75"/>
<circle cx="124.7" cy="473.6" r="2.95" fill="#ffffff" stroke="#1a1a1a" stroke-width="0.75"/>
<circle cx="120.5" cy="473.8" r="2.95" fill="#ffffff" stroke="#1a1a1a" stroke-width="0.75"/>
<line x1="60.2" y1="374.5" x2="80.1" y2="374.5" stroke="#bdbdbd" stroke-width="0.95"/>
<text x="70" y="371.6" text-anchor="middle">0.003</text>
<line x1="98.1" y1="374.5" x2="118.9" y2="374.5" stroke="#bdbdbd" stroke-width="0.95"/>
<text x="109.6" y="371.6" text-anchor="middle">0.0001</text>
<text x="23.5" y="423.1" text-anchor="middle" transform="rotate(-90 23.5 423.1)">CD3<tspan baseline-shift="2.9" font-size="5.2">+</tspan> T cells per µl blood (×10<tspan baseline-shift="2.9" font-size="5.2">3</tspan>)</text>
<text x="62.2" y="485.9" text-anchor="end" transform="rotate(-45 62.2 485.9)">Virgin, vehicle</text>
<text x="82.5" y="485.9" text-anchor="end" transform="rotate(-45 82.5 485.9)">Virgin, FTY720</text>
<text x="102.9" y="485.9" text-anchor="end" transform="rotate(-45 102.9 485.9)">d28-inv, vehicle</text>
<text x="123.3" y="485.9" text-anchor="end" transform="rotate(-45 123.3 485.9)">d28-inv, FTY720</text>
<text x="167.3" y="362" font-size="11" font-weight="bold" fill="#000">g</text>
<line x1="205.5" y1="368.6" x2="205.5" y2="479.4" stroke="#7c7c7c" stroke-width="1"/>
<text x="198.3" y="477.7" text-anchor="end">0</text>
<line x1="201" y1="448.35" x2="205" y2="448.35" stroke="#7a7a7a" stroke-width="0.9"/>
<text x="198.3" y="451.15" text-anchor="end">250</text>
<line x1="201" y1="421.8" x2="205" y2="421.8" stroke="#7a7a7a" stroke-width="0.9"/>
<text x="198.3" y="424.6" text-anchor="end">500</text>
<line x1="201" y1="395.25" x2="205" y2="395.25" stroke="#7a7a7a" stroke-width="0.9"/>
<text x="198.3" y="398.05" text-anchor="end">750</text>
<line x1="201" y1="368.7" x2="205" y2="368.7" stroke="#7a7a7a" stroke-width="0.9"/>
<text x="198.3" y="371.5" text-anchor="end">1,000</text>
<line x1="201.3" y1="474.9" x2="311.6" y2="474.9" stroke="#8c8c8c" stroke-width="0.9"/>
<line x1="205.9" y1="474.9" x2="205.9" y2="479.4" stroke="#7a7a7a" stroke-width="0.9"/>
<text x="205.9" y="489" text-anchor="middle">0</text>
<line x1="227.05" y1="474.9" x2="227.05" y2="479.4" stroke="#7a7a7a" stroke-width="0.9"/>
<text x="227.05" y="489" text-anchor="middle">5</text>
<line x1="248.2" y1="474.9" x2="248.2" y2="479.4" stroke="#7a7a7a" stroke-width="0.9"/>
<text x="248.2" y="489" text-anchor="middle">10</text>
<line x1="269.35" y1="474.9" x2="269.35" y2="479.4" stroke="#7a7a7a" stroke-width="0.9"/>
<text x="269.35" y="489" text-anchor="middle">15</text>
<line x1="290.5" y1="474.9" x2="290.5" y2="479.4" stroke="#7a7a7a" stroke-width="0.9"/>
<text x="290.5" y="489" text-anchor="middle">20</text>
<line x1="311.65" y1="474.9" x2="311.65" y2="479.4" stroke="#7a7a7a" stroke-width="0.9"/>
<text x="311.65" y="489" text-anchor="middle">25</text>
<text x="258.8" y="501.3" text-anchor="middle" font-size="7.85">Time (days)</text>
<text x="173.5" y="421.5" text-anchor="middle" font-size="7.9" transform="rotate(-90 173.5 421.5)">Tumour volume (mm<tspan baseline-shift="2.9" font-size="5.2">3</tspan>)</text>
<line x1="252.43" y1="471.56" x2="252.43" y2="473.56" stroke="#555555" stroke-width="0.8"/>
<line x1="249.33" y1="471.56" x2="255.53" y2="471.56" stroke="#555555" stroke-width="0.8"/>
<line x1="249.33" y1="473.56" x2="255.53" y2="473.56" stroke="#555555" stroke-width="0.8"/>
<line x1="265.12" y1="469.65" x2="265.12" y2="471.65" stroke="#555555" stroke-width="0.8"/>
<line x1="262.02" y1="469.65" x2="268.22" y2="469.65" stroke="#555555" stroke-width="0.8"/>
<line x1="262.02" y1="471.65" x2="268.22" y2="471.65" stroke="#555555" stroke-width="0.8"/>
<line x1="282.04" y1="466.15" x2="282.04" y2="468.15" stroke="#555555" stroke-width="0.8"/>
<line x1="278.94" y1="466.15" x2="285.14" y2="466.15" stroke="#555555" stroke-width="0.8"/>
<line x1="278.94" y1="468.15" x2="285.14" y2="468.15" stroke="#555555" stroke-width="0.8"/>
<line x1="294.73" y1="458.78" x2="294.73" y2="462.78" stroke="#555555" stroke-width="0.8"/>
<line x1="291.63" y1="458.78" x2="297.83" y2="458.78" stroke="#555555" stroke-width="0.8"/>
<line x1="291.63" y1="462.78" x2="297.83" y2="462.78" stroke="#555555" stroke-width="0.8"/>
<line x1="303.19" y1="453.68" x2="303.19" y2="457.68" stroke="#555555" stroke-width="0.8"/>
<line x1="300.09" y1="453.68" x2="306.29" y2="453.68" stroke="#555555" stroke-width="0.8"/>
<line x1="300.09" y1="457.68" x2="306.29" y2="457.68" stroke="#555555" stroke-width="0.8"/>
<polyline points="210.13,474.9 235.51,474.9 252.43,472.56 265.12,470.65 282.04,467.15 294.73,460.78 303.19,455.68" fill="none" stroke="#111" stroke-width="0.9"/>
<circle cx="210.13" cy="474.9" r="3.5" fill="#f7941d" stroke="#1a1a1a" stroke-width="0.85"/>
<circle cx="235.51" cy="474.9" r="3.5" fill="#f7941d" stroke="#1a1a1a" stroke-width="0.85"/>
<circle cx="252.43" cy="472.56" r="3.5" fill="#f7941d" stroke="#1a1a1a" stroke-width="0.85"/>
<circle cx="265.12" cy="470.65" r="3.5" fill="#f7941d" stroke="#1a1a1a" stroke-width="0.85"/>
<circle cx="282.04" cy="467.15" r="3.5" fill="#f7941d" stroke="#1a1a1a" stroke-width="0.85"/>
<circle cx="294.73" cy="460.78" r="3.5" fill="#f7941d" stroke="#1a1a1a" stroke-width="0.85"/>
<circle cx="303.19" cy="455.68" r="3.5" fill="#f7941d" stroke="#1a1a1a" stroke-width="0.85"/>
<line x1="252.43" y1="467.63" x2="252.43" y2="469.63" stroke="#555555" stroke-width="0.8"/>
<line x1="249.33" y1="467.63" x2="255.53" y2="467.63" stroke="#555555" stroke-width="0.8"/>
<line x1="249.33" y1="469.63" x2="255.53" y2="469.63" stroke="#555555" stroke-width="0.8"/>
<line x1="265.12" y1="464.55" x2="265.12" y2="466.55" stroke="#555555" stroke-width="0.8"/>
<line x1="262.02" y1="464.55" x2="268.22" y2="464.55" stroke="#555555" stroke-width="0.8"/>
<line x1="262.02" y1="466.55" x2="268.22" y2="466.55" stroke="#555555" stroke-width="0.8"/>
<line x1="282.04" y1="451.87" x2="282.04" y2="455.87" stroke="#555555" stroke-width="0.8"/>
<line x1="278.94" y1="451.87" x2="285.14" y2="451.87" stroke="#555555" stroke-width="0.8"/>
<line x1="278.94" y1="455.87" x2="285.14" y2="455.87" stroke="#555555" stroke-width="0.8"/>
<line x1="294.73" y1="429.69" x2="294.73" y2="437.69" stroke="#555555" stroke-width="0.8"/>
<line x1="291.63" y1="429.69" x2="297.83" y2="429.69" stroke="#555555" stroke-width="0.8"/>
<line x1="291.63" y1="437.69" x2="297.83" y2="437.69" stroke="#555555" stroke-width="0.8"/>
<line x1="303.19" y1="403.59" x2="303.19" y2="415.59" stroke="#555555" stroke-width="0.8"/>
<line x1="300.09" y1="403.59" x2="306.29" y2="403.59" stroke="#555555" stroke-width="0.8"/>
<line x1="300.09" y1="415.59" x2="306.29" y2="415.59" stroke="#555555" stroke-width="0.8"/>
<polyline points="210.13,474.9 235.51,474.9 252.43,468.63 265.12,465.55 282.04,453.87 294.73,433.69 303.19,409.59" fill="none" stroke="#111" stroke-width="0.9"/>
<circle cx="210.13" cy="474.9" r="3.5" fill="#f8bb98" stroke="#1a1a1a" stroke-width="0.85"/>
<circle cx="235.51" cy="474.9" r="3.5" fill="#f8bb98" stroke="#1a1a1a" stroke-width="0.85"/>
<circle cx="252.43" cy="468.63" r="3.5" fill="#f8bb98" stroke="#1a1a1a" stroke-width="0.85"/>
<circle cx="265.12" cy="465.55" r="3.5" fill="#f8bb98" stroke="#1a1a1a" stroke-width="0.85"/>
<circle cx="282.04" cy="453.87" r="3.5" fill="#f8bb98" stroke="#1a1a1a" stroke-width="0.85"/>
<circle cx="294.73" cy="433.69" r="3.5" fill="#f8bb98" stroke="#1a1a1a" stroke-width="0.85"/>
<circle cx="303.19" cy="409.59" r="3.5" fill="#f8bb98" stroke="#1a1a1a" stroke-width="0.85"/>
<line x1="252.43" y1="465.51" x2="252.43" y2="467.51" stroke="#555555" stroke-width="0.8"/>
<line x1="249.33" y1="465.51" x2="255.53" y2="465.51" stroke="#555555" stroke-width="0.8"/>
<line x1="249.33" y1="467.51" x2="255.53" y2="467.51" stroke="#555555" stroke-width="0.8"/>
<line x1="265.12" y1="459.78" x2="265.12" y2="461.78" stroke="#555555" stroke-width="0.8"/>
<line x1="262.02" y1="459.78" x2="268.22" y2="459.78" stroke="#555555" stroke-width="0.8"/>
<line x1="262.02" y1="461.78" x2="268.22" y2="461.78" stroke="#555555" stroke-width="0.8"/>
<line x1="282.04" y1="440.62" x2="282.04" y2="444.62" stroke="#555555" stroke-width="0.8"/>
<line x1="278.94" y1="440.62" x2="285.14" y2="440.62" stroke="#555555" stroke-width="0.8"/>
<line x1="278.94" y1="444.62" x2="285.14" y2="444.62" stroke="#555555" stroke-width="0.8"/>
<line x1="294.73" y1="414.78" x2="294.73" y2="424.78" stroke="#555555" stroke-width="0.8"/>
<line x1="291.63" y1="414.78" x2="297.83" y2="414.78" stroke="#555555" stroke-width="0.8"/>
<line x1="291.63" y1="424.78" x2="297.83" y2="424.78" stroke="#555555" stroke-width="0.8"/>
<line x1="303.19" y1="386.67" x2="303.19" y2="404.67" stroke="#555555" stroke-width="0.8"/>
<line x1="300.09" y1="386.67" x2="306.29" y2="386.67" stroke="#555555" stroke-width="0.8"/>
<line x1="300.09" y1="404.67" x2="306.29" y2="404.67" stroke="#555555" stroke-width="0.8"/>
<polyline points="210.13,474.9 235.51,474.37 252.43,466.51 265.12,460.78 282.04,442.62 294.73,419.78 303.19,395.67" fill="none" stroke="#111" stroke-width="0.9"/>
<circle cx="210.13" cy="474.9" r="3.5" fill="#76c8ca" stroke="#1a1a1a" stroke-width="0.85"/>
<circle cx="235.51" cy="474.37" r="3.5" fill="#76c8ca" stroke="#1a1a1a" stroke-width="0.85"/>
<circle cx="252.43" cy="466.51" r="3.5" fill="#76c8ca" stroke="#1a1a1a" stroke-width="0.85"/>
<circle cx="265.12" cy="460.78" r="3.5" fill="#76c8ca" stroke="#1a1a1a" stroke-width="0.85"/>
<circle cx="282.04" cy="442.62" r="3.5" fill="#76c8ca" stroke="#1a1a1a" stroke-width="0.85"/>
<circle cx="294.73" cy="419.78" r="3.5" fill="#76c8ca" stroke="#1a1a1a" stroke-width="0.85"/>
<circle cx="303.19" cy="395.67" r="3.5" fill="#76c8ca" stroke="#1a1a1a" stroke-width="0.85"/>
<line x1="252.43" y1="469.65" x2="252.43" y2="471.65" stroke="#555555" stroke-width="0.8"/>
<line x1="249.33" y1="469.65" x2="255.53" y2="469.65" stroke="#555555" stroke-width="0.8"/>
<line x1="249.33" y1="471.65" x2="255.53" y2="471.65" stroke="#555555" stroke-width="0.8"/>
<line x1="265.12" y1="467.95" x2="265.12" y2="469.95" stroke="#555555" stroke-width="0.8"/>
<line x1="262.02" y1="467.95" x2="268.22" y2="467.95" stroke="#555555" stroke-width="0.8"/>
<line x1="262.02" y1="469.95" x2="268.22" y2="469.95" stroke="#555555" stroke-width="0.8"/>
<line x1="282.04" y1="460.37" x2="282.04" y2="464.37" stroke="#555555" stroke-width="0.8"/>
<line x1="278.94" y1="460.37" x2="285.14" y2="460.37" stroke="#555555" stroke-width="0.8"/>
<line x1="278.94" y1="464.37" x2="285.14" y2="464.37" stroke="#555555" stroke-width="0.8"/>
<line x1="294.73" y1="447.26" x2="294.73" y2="453.26" stroke="#555555" stroke-width="0.8"/>
<line x1="291.63" y1="447.26" x2="297.83" y2="447.26" stroke="#555555" stroke-width="0.8"/>
<line x1="291.63" y1="453.26" x2="297.83" y2="453.26" stroke="#555555" stroke-width="0.8"/>
<line x1="303.19" y1="432.73" x2="303.19" y2="442.73" stroke="#555555" stroke-width="0.8"/>
<line x1="300.09" y1="432.73" x2="306.29" y2="432.73" stroke="#555555" stroke-width="0.8"/>
<line x1="300.09" y1="442.73" x2="306.29" y2="442.73" stroke="#555555" stroke-width="0.8"/>
<polyline points="210.13,474.9 235.51,474.37 252.43,470.65 265.12,468.95 282.04,462.37 294.73,450.26 303.19,437.73" fill="none" stroke="#111" stroke-width="0.9"/>
<circle cx="210.13" cy="474.9" r="3.5" fill="#5a62ad" stroke="#1a1a1a" stroke-width="0.85"/>
<circle cx="235.51" cy="474.37" r="3.5" fill="#5a62ad" stroke="#1a1a1a" stroke-width="0.85"/>
<circle cx="252.43" cy="470.65" r="3.5" fill="#5a62ad" stroke="#1a1a1a" stroke-width="0.85"/>
<circle cx="265.12" cy="468.95" r="3.5" fill="#5a62ad" stroke="#1a1a1a" stroke-width="0.85"/>
<circle cx="282.04" cy="462.37" r="3.5" fill="#5a62ad" stroke="#1a1a1a" stroke-width="0.85"/>
<circle cx="294.73" cy="450.26" r="3.5" fill="#5a62ad" stroke="#1a1a1a" stroke-width="0.85"/>
<circle cx="303.19" cy="437.73" r="3.5" fill="#5a62ad" stroke="#1a1a1a" stroke-width="0.85"/>
<circle cx="215.4" cy="373.3" r="4.3" fill="#5a62ad" stroke="#1a1a1a" stroke-width="0.85"/>
<circle cx="215.4" cy="386.6" r="4.3" fill="#76c8ca" stroke="#1a1a1a" stroke-width="0.85"/>
<circle cx="215.4" cy="399.9" r="4.3" fill="#f7941d" stroke="#1a1a1a" stroke-width="0.85"/>
<circle cx="215.4" cy="413.2" r="4.3" fill="#f8bb98" stroke="#1a1a1a" stroke-width="0.85"/>
<line x1="224.5" y1="370.2" x2="224.5" y2="383.3" stroke="#333" stroke-width="0.95"/>
<line x1="236.5" y1="370.2" x2="236.5" y2="399.3" stroke="#777" stroke-width="0.95"/>
<line x1="224.5" y1="400.9" x2="224.5" y2="417.3" stroke="#333" stroke-width="0.95"/>
<text x="226.6" y="377.2" text-anchor="middle" transform="rotate(90 226.6 377.2)">0.0073</text>
<text x="239.6" y="385" text-anchor="middle" transform="rotate(90 239.6 385)">0.014</text>
<text x="226.6" y="409.7" text-anchor="middle" transform="rotate(90 226.6 409.7)">&lt;0.0001</text>
<circle cx="323" cy="400.6" r="3.7" fill="#5a62ad" stroke="#1a1a1a" stroke-width="0.85"/>
<text x="330.5" y="403.5" font-size="7.95">Virgin, vehicle</text>
<circle cx="323" cy="417.4" r="3.7" fill="#76c8ca" stroke="#1a1a1a" stroke-width="0.85"/>
<text x="330.5" y="420.3" font-size="7.95">Virgin, FTY720</text>
<circle cx="323" cy="434.2" r="3.7" fill="#f7941d" stroke="#1a1a1a" stroke-width="0.85"/>
<text x="330.5" y="437.1" font-size="7.95">d28-inv, vehicle</text>
<circle cx="323" cy="451" r="3.7" fill="#f8bb98" stroke="#1a1a1a" stroke-width="0.85"/>
<text x="330.5" y="453.9" font-size="7.95">d28-inv, FTY720</text>
<text x="403.8" y="361.7" font-size="11" font-weight="bold" fill="#000">h</text>
<line x1="437.5" y1="365.2" x2="437.5" y2="471.5" stroke="#7c7c7c" stroke-width="1"/>
<text x="429.1" y="474.3" text-anchor="end">0</text>
<line x1="433" y1="436.07" x2="437" y2="436.07" stroke="#7a7a7a" stroke-width="0.9"/>
<text x="429.1" y="438.87" text-anchor="end">0.6</text>
<line x1="433" y1="400.63" x2="437" y2="400.63" stroke="#7a7a7a" stroke-width="0.9"/>
<text x="429.1" y="403.43" text-anchor="end">1.2</text>
<line x1="433" y1="365.2" x2="437" y2="365.2" stroke="#7a7a7a" stroke-width="0.9"/>
<text x="429.1" y="368" text-anchor="end">1.8</text>
<line x1="433" y1="471.5" x2="508" y2="471.5" stroke="#8c8c8c" stroke-width="0.9"/>
<line x1="448.4" y1="471.5" x2="448.4" y2="476" stroke="#7a7a7a" stroke-width="0.9"/>
<line x1="464.8" y1="471.5" x2="464.8" y2="476" stroke="#7a7a7a" stroke-width="0.9"/>
<line x1="481.2" y1="471.5" x2="481.2" y2="476" stroke="#7a7a7a" stroke-width="0.9"/>
<line x1="497.6" y1="471.5" x2="497.6" y2="476" stroke="#7a7a7a" stroke-width="0.9"/>
<rect x="443.25" y="447.88" width="10.3" height="23.62" fill="#5a62ad" stroke="#1a1a1a" stroke-width="0.6"/>
<rect x="459.65" y="418.35" width="10.3" height="53.15" fill="#76c8ca" stroke="#1a1a1a" stroke-width="0.6"/>
<rect x="476.05" y="457.92" width="10.3" height="13.58" fill="#f7941d" stroke="#1a1a1a" stroke-width="0.6"/>
<rect x="492.45" y="429.57" width="10.3" height="41.93" fill="#f8bb98" stroke="#1a1a1a" stroke-width="0.6"/>
<circle cx="447.9" cy="430.75" r="2.95" fill="#ffffff" stroke="#1a1a1a" stroke-width="0.75"/>
<circle cx="447.9" cy="436.66" r="2.95" fill="#ffffff" stroke="#1a1a1a" stroke-width="0.75"/>
<circle cx="446.9" cy="446.7" r="2.95" fill="#ffffff" stroke="#1a1a1a" stroke-width="0.75"/>
<circle cx="449.9" cy="447.29" r="2.95" fill="#ffffff" stroke="#1a1a1a" stroke-width="0.75"/>
<circle cx="446.4" cy="449.06" r="2.95" fill="#ffffff" stroke="#1a1a1a" stroke-width="0.75"/>
<circle cx="448.4" cy="452.01" r="2.95" fill="#ffffff" stroke="#1a1a1a" stroke-width="0.75"/>
<circle cx="446.4" cy="453.78" r="2.95" fill="#ffffff" stroke="#1a1a1a" stroke-width="0.75"/>
<circle cx="450.4" cy="455.56" r="2.95" fill="#ffffff" stroke="#1a1a1a" stroke-width="0.75"/>
<circle cx="448.4" cy="456.74" r="2.95" fill="#ffffff" stroke="#1a1a1a" stroke-width="0.75"/>
<circle cx="449.4" cy="444.93" r="2.95" fill="#ffffff" stroke="#1a1a1a" stroke-width="0.75"/>
<circle cx="464.8" cy="395.32" r="2.95" fill="#ffffff" stroke="#1a1a1a" stroke-width="0.75"/>
<circle cx="464.8" cy="401.22" r="2.95" fill="#ffffff" stroke="#1a1a1a" stroke-width="0.75"/>
<circle cx="467.3" cy="411.85" r="2.95" fill="#ffffff" stroke="#1a1a1a" stroke-width="0.75"/>
<circle cx="464.8" cy="415.4" r="2.95" fill="#ffffff" stroke="#1a1a1a" stroke-width="0.75"/>
<circle cx="467.3" cy="418.35" r="2.95" fill="#ffffff" stroke="#1a1a1a" stroke-width="0.75"/>
<circle cx="464.8" cy="423.67" r="2.95" fill="#ffffff" stroke="#1a1a1a" stroke-width="0.75"/>
<circle cx="464.8" cy="428.98" r="2.95" fill="#ffffff" stroke="#1a1a1a" stroke-width="0.75"/>
<circle cx="467.3" cy="429.57" r="2.95" fill="#ffffff" stroke="#1a1a1a" stroke-width="0.75"/>
<circle cx="461.8" cy="433.7" r="2.95" fill="#ffffff" stroke="#1a1a1a" stroke-width="0.75"/>
<circle cx="463.8" cy="420.71" r="2.95" fill="#ffffff" stroke="#1a1a1a" stroke-width="0.75"/>
<circle cx="480.7" cy="434.89" r="2.95" fill="#ffffff" stroke="#1a1a1a" stroke-width="0.75"/>
<circle cx="480.7" cy="446.7" r="2.95" fill="#ffffff" stroke="#1a1a1a" stroke-width="0.75"/>
<circle cx="482.2" cy="446.7" r="2.95" fill="#ffffff" stroke="#1a1a1a" stroke-width="0.75"/>
<circle cx="481.2" cy="452.01" r="2.95" fill="#ffffff" stroke="#1a1a1a" stroke-width="0.75"/>
<circle cx="481.2" cy="456.15" r="2.95" fill="#ffffff" stroke="#1a1a1a" stroke-width="0.75"/>
<circle cx="479.2" cy="459.1" r="2.95" fill="#ffffff" stroke="#1a1a1a" stroke-width="0.75"/>
<circle cx="483.2" cy="459.69" r="2.95" fill="#ffffff" stroke="#1a1a1a" stroke-width="0.75"/>
<circle cx="480.2" cy="466.19" r="2.95" fill="#ffffff" stroke="#1a1a1a" stroke-width="0.75"/>
<circle cx="482.2" cy="468.55" r="2.95" fill="#ffffff" stroke="#1a1a1a" stroke-width="0.75"/>
<circle cx="481.2" cy="449.65" r="2.95" fill="#ffffff" stroke="#1a1a1a" stroke-width="0.75"/>
<circle cx="498.6" cy="408.31" r="2.95" fill="#ffffff" stroke="#1a1a1a" stroke-width="0.75"/>
<circle cx="496.1" cy="410.67" r="2.95" fill="#ffffff" stroke="#1a1a1a" stroke-width="0.75"/>
<circle cx="497.6" cy="415.99" r="2.95" fill="#ffffff" stroke="#1a1a1a" stroke-width="0.75"/>
<circle cx="495.6" cy="420.12" r="2.95" fill="#ffffff" stroke="#1a1a1a" stroke-width="0.75"/>
<circle cx="498.1" cy="422.48" r="2.95" fill="#ffffff" stroke="#1a1a1a" stroke-width="0.75"/>
<circle cx="495.1" cy="427.8" r="2.95" fill="#ffffff" stroke="#1a1a1a" stroke-width="0.75"/>
<circle cx="499.1" cy="428.39" r="2.95" fill="#ffffff" stroke="#1a1a1a" stroke-width="0.75"/>
<circle cx="495.1" cy="436.07" r="2.95" fill="#ffffff" stroke="#1a1a1a" stroke-width="0.75"/>
<circle cx="499.1" cy="436.66" r="2.95" fill="#ffffff" stroke="#1a1a1a" stroke-width="0.75"/>
<circle cx="497.6" cy="439.02" r="2.95" fill="#ffffff" stroke="#1a1a1a" stroke-width="0.75"/>
<circle cx="497.6" cy="453.78" r="2.95" fill="#ffffff" stroke="#1a1a1a" stroke-width="0.75"/>
<circle cx="497.1" cy="431.93" r="2.95" fill="#ffffff" stroke="#1a1a1a" stroke-width="0.75"/>
<line x1="452.8" y1="368.5" x2="473.6" y2="368.5" stroke="#666666" stroke-width="0.95"/>
<text x="462.6" y="366.3" text-anchor="middle">0.032</text>
<line x1="484.4" y1="368.5" x2="497.7" y2="368.5" stroke="#bdbdbd" stroke-width="0.95"/>
<text x="478" y="366.3">&lt;0.0001</text>
<text x="411.1" y="418.7" text-anchor="middle" font-size="8" transform="rotate(-90 411.1 418.7)">End-point tumour weight (g)</text>
<text x="450.8" y="482.4" text-anchor="end" font-size="7.9" transform="rotate(-45 450.8 482.4)">Virgin, vehicle</text>
<text x="467.2" y="482.4" text-anchor="end" font-size="7.9" transform="rotate(-45 467.2 482.4)">Virgin, FTY720</text>
<text x="483.6" y="482.4" text-anchor="end" font-size="7.9" transform="rotate(-45 483.6 482.4)">d28-inv, vehicle</text>
<text x="500" y="482.4" text-anchor="end" font-size="7.9" transform="rotate(-45 500 482.4)">d28-inv, FTY720</text>
<text x="535.2" y="361.7" font-size="11" font-weight="bold" fill="#000">i</text>
<line x1="578.5" y1="365.3" x2="578.5" y2="470.6" stroke="#7c7c7c" stroke-width="1"/>
<text x="569.5" y="473.4" text-anchor="end">0</text>
<line x1="574" y1="435.6" x2="578" y2="435.6" stroke="#7a7a7a" stroke-width="0.9"/>
<text x="569.5" y="438.4" text-anchor="end">2</text>
<line x1="574" y1="400.6" x2="578" y2="400.6" stroke="#7a7a7a" stroke-width="0.9"/>
<text x="569.5" y="403.4" text-anchor="end">4</text>
<line x1="574" y1="365.6" x2="578" y2="365.6" stroke="#7a7a7a" stroke-width="0.9"/>
<text x="569.5" y="368.4" text-anchor="end">6</text>
<line x1="574" y1="470.6" x2="648.8" y2="470.6" stroke="#8c8c8c" stroke-width="0.9"/>
<line x1="589.4" y1="470.6" x2="589.4" y2="475.1" stroke="#7a7a7a" stroke-width="0.9"/>
<line x1="605.8" y1="470.6" x2="605.8" y2="475.1" stroke="#7a7a7a" stroke-width="0.9"/>
<line x1="622" y1="470.6" x2="622" y2="475.1" stroke="#7a7a7a" stroke-width="0.9"/>
<line x1="638.2" y1="470.6" x2="638.2" y2="475.1" stroke="#7a7a7a" stroke-width="0.9"/>
<rect x="584.4" y="463.43" width="10" height="7.18" fill="#5a62ad" stroke="#1a1a1a" stroke-width="0.6"/>
<rect x="600.8" y="468.85" width="10" height="1.75" fill="#76c8ca" stroke="#1a1a1a" stroke-width="0.6"/>
<rect x="617" y="445.58" width="10" height="25.02" fill="#f7941d" stroke="#1a1a1a" stroke-width="0.6"/>
<rect x="633.2" y="468.85" width="10" height="1.75" fill="#f8bb98" stroke="#1a1a1a" stroke-width="0.6"/>
<line x1="622" y1="438.75" x2="622" y2="451.35" stroke="#555" stroke-width="0.85"/>
<line x1="619.4" y1="438.75" x2="624.6" y2="438.75" stroke="#555" stroke-width="0.85"/>
<circle cx="589.3" cy="455.1" r="2.95" fill="#ffffff" stroke="#1a1a1a" stroke-width="0.75"/>
<circle cx="589.3" cy="458.5" r="2.95" fill="#ffffff" stroke="#1a1a1a" stroke-width="0.75"/>
<circle cx="587.9" cy="463" r="2.95" fill="#ffffff" stroke="#1a1a1a" stroke-width="0.75"/>
<circle cx="590.9" cy="463" r="2.95" fill="#ffffff" stroke="#1a1a1a" stroke-width="0.75"/>
<circle cx="589.3" cy="467.5" r="2.95" fill="#ffffff" stroke="#1a1a1a" stroke-width="0.75"/>
<circle cx="586.5" cy="468" r="2.95" fill="#ffffff" stroke="#1a1a1a" stroke-width="0.75"/>
<circle cx="592.3" cy="468" r="2.95" fill="#ffffff" stroke="#1a1a1a" stroke-width="0.75"/>
<circle cx="589.3" cy="461" r="2.95" fill="#ffffff" stroke="#1a1a1a" stroke-width="0.75"/>
<circle cx="605.8" cy="452.8" r="2.95" fill="#ffffff" stroke="#1a1a1a" stroke-width="0.75"/>
<circle cx="605.8" cy="464.1" r="2.95" fill="#ffffff" stroke="#1a1a1a" stroke-width="0.75"/>
<circle cx="603.5" cy="467.6" r="2.95" fill="#ffffff" stroke="#1a1a1a" stroke-width="0.75"/>
<circle cx="608" cy="467.6" r="2.95" fill="#ffffff" stroke="#1a1a1a" stroke-width="0.75"/>
<circle cx="604.8" cy="470.2" r="2.95" fill="#ffffff" stroke="#1a1a1a" stroke-width="0.75"/>
<circle cx="607.2" cy="470.2" r="2.95" fill="#ffffff" stroke="#1a1a1a" stroke-width="0.75"/>
<circle cx="621.6" cy="375.8" r="2.95" fill="#ffffff" stroke="#1a1a1a" stroke-width="0.75"/>
<circle cx="621.6" cy="409.5" r="2.95" fill="#ffffff" stroke="#1a1a1a" stroke-width="0.75"/>
<circle cx="621.6" cy="428.6" r="2.95" fill="#ffffff" stroke="#1a1a1a" stroke-width="0.75"/>
<circle cx="621.6" cy="442.6" r="2.95" fill="#ffffff" stroke="#1a1a1a" stroke-width="0.75"/>
<circle cx="622.7" cy="445.3" r="2.95" fill="#ffffff" stroke="#1a1a1a" stroke-width="0.75"/>
<circle cx="621.6" cy="452.8" r="2.95" fill="#ffffff" stroke="#1a1a1a" stroke-width="0.75"/>
<circle cx="620.5" cy="455" r="2.95" fill="#ffffff" stroke="#1a1a1a" stroke-width="0.75"/>
<circle cx="619.2" cy="460.7" r="2.95" fill="#ffffff" stroke="#1a1a1a" stroke-width="0.75"/>
<circle cx="624.2" cy="461.9" r="2.95" fill="#ffffff" stroke="#1a1a1a" stroke-width="0.75"/>
<circle cx="622.7" cy="459.6" r="2.95" fill="#ffffff" stroke="#1a1a1a" stroke-width="0.75"/>
<circle cx="638.2" cy="453.5" r="2.95" fill="#ffffff" stroke="#1a1a1a" stroke-width="0.75"/>
<circle cx="638.2" cy="464.1" r="2.95" fill="#ffffff" stroke="#1a1a1a" stroke-width="0.75"/>
<circle cx="635.3" cy="467.6" r="2.95" fill="#ffffff" stroke="#1a1a1a" stroke-width="0.75"/>
<circle cx="641.2" cy="467.6" r="2.95" fill="#ffffff" stroke="#1a1a1a" stroke-width="0.75"/>
<circle cx="636.4" cy="470.2" r="2.95" fill="#ffffff" stroke="#1a1a1a" stroke-width="0.75"/>
<circle cx="639.8" cy="470.2" r="2.95" fill="#ffffff" stroke="#1a1a1a" stroke-width="0.75"/>
<line x1="592.2" y1="367.5" x2="613.7" y2="367.5" stroke="#666666" stroke-width="0.95"/>
<text x="603" y="365" text-anchor="middle">0.032</text>
<line x1="625.5" y1="367.5" x2="638.2" y2="367.5" stroke="#bdbdbd" stroke-width="0.95"/>
<text x="619.4" y="365">&lt;0.0001</text>
<text x="547.3" y="412.1" text-anchor="middle" font-size="8.5" transform="rotate(-90 547.3 412.1)" textLength="86" lengthAdjust="spacing">H-2k<tspan baseline-shift="2.9" font-size="5.2">b</tspan> OVA-tetramer<tspan baseline-shift="2.9" font-size="5.2">+</tspan></text>
<text x="557.9" y="413.5" text-anchor="middle" font-size="8.5" transform="rotate(-90 557.9 413.5)" textLength="83.5" lengthAdjust="spacing">T cells per g (×10<tspan baseline-shift="2.9" font-size="5.2">5</tspan>)</text>
<text x="591.8" y="481.5" text-anchor="end" font-size="7.9" transform="rotate(-45 591.8 481.5)">Virgin, vehicle</text>
<text x="608.2" y="481.5" text-anchor="end" font-size="7.9" transform="rotate(-45 608.2 481.5)">Virgin, FTY720</text>
<text x="624.4" y="481.5" text-anchor="end" font-size="7.9" transform="rotate(-45 624.4 481.5)">d28-inv, vehicle</text>
<text x="640.6" y="481.5" text-anchor="end" font-size="7.9" transform="rotate(-45 640.6 481.5)">d28-inv, FTY720</text>
</svg>
</body></html>
